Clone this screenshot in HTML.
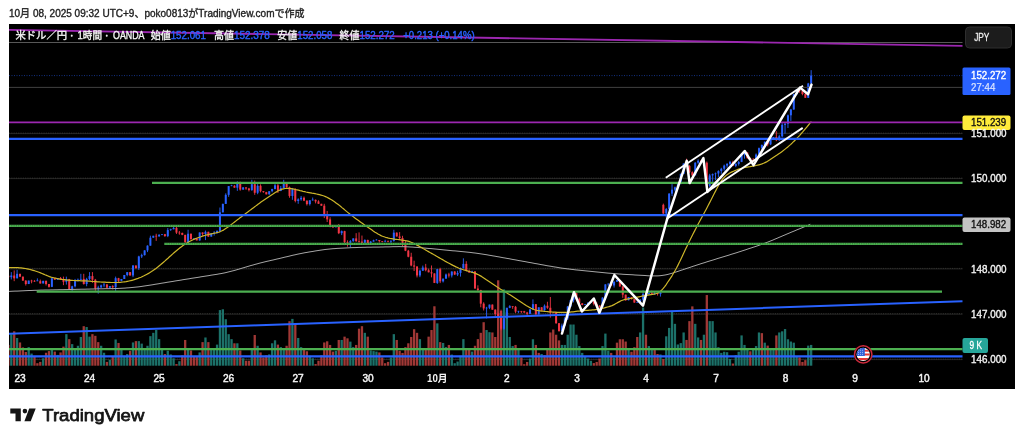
<!DOCTYPE html><html lang="ja"><head><meta charset="utf-8"><title>USDJPY chart</title><style>html,body{margin:0;padding:0;background:#fff}body{width:1024px;height:441px;position:relative;overflow:hidden;font-family:"Liberation Sans","Noto Sans CJK JP",sans-serif}</style></head><body><svg width="1024" height="441" viewBox="0 0 1024 441" style="position:absolute;left:0;top:0;filter:blur(0.4px)">
<rect x="9" y="24" width="1006" height="365" fill="#000"/>
<defs><clipPath id="cp"><rect x="9" y="24" width="953.5" height="342"/></clipPath></defs>
<path d="M9 133.6H962.5" stroke="#242424" stroke-width="1"/>
<path d="M9 133.1H962.5" stroke="#3c3c38" stroke-width="0.8" stroke-dasharray="1.1 1.2"/>
<path d="M9 178.6H962.5" stroke="#242424" stroke-width="1"/>
<path d="M9 178.1H962.5" stroke="#3c3c38" stroke-width="0.8" stroke-dasharray="1.1 1.2"/>
<path d="M9 268.9H962.5" stroke="#242424" stroke-width="1"/>
<path d="M9 268.4H962.5" stroke="#3c3c38" stroke-width="0.8" stroke-dasharray="1.1 1.2"/>
<path d="M9 314.2H962.5" stroke="#242424" stroke-width="1"/>
<path d="M9 313.7H962.5" stroke="#3c3c38" stroke-width="0.8" stroke-dasharray="1.1 1.2"/>
<path d="M9 359.6H962.5" stroke="#242424" stroke-width="1"/>
<path d="M9 359.1H962.5" stroke="#3c3c38" stroke-width="0.8" stroke-dasharray="1.1 1.2"/>
<g clip-path="url(#cp)">
<g shape-rendering="auto"><rect x="7.25" y="344.95" width="2.3" height="20.75" fill="#a03836"/><rect x="10.15" y="334.16" width="2.3" height="31.54" fill="#1c7169"/><rect x="13.05" y="331.34" width="2.3" height="34.36" fill="#a03836"/><rect x="15.94" y="337.98" width="2.3" height="27.72" fill="#1c7169"/><rect x="18.84" y="342.46" width="2.3" height="23.24" fill="#a03836"/><rect x="21.74" y="347.44" width="2.3" height="18.26" fill="#a03836"/><rect x="24.64" y="351.92" width="2.3" height="13.78" fill="#a03836"/><rect x="27.54" y="347.11" width="2.3" height="18.59" fill="#1c7169"/><rect x="30.43" y="353.58" width="2.3" height="12.12" fill="#1c7169"/><rect x="33.33" y="356.57" width="2.3" height="9.13" fill="#a03836"/><rect x="36.23" y="363.21" width="2.3" height="2.49" fill="#a03836"/><rect x="39.13" y="361.88" width="2.3" height="3.82" fill="#a03836"/><rect x="42.03" y="358.23" width="2.3" height="7.47" fill="#1c7169"/><rect x="44.92" y="352.75" width="2.3" height="12.95" fill="#a03836"/><rect x="47.82" y="351.09" width="2.3" height="14.61" fill="#a03836"/><rect x="50.72" y="349.93" width="2.3" height="15.77" fill="#1c7169"/><rect x="53.62" y="351.59" width="2.3" height="14.11" fill="#a03836"/><rect x="56.52" y="354.91" width="2.3" height="10.79" fill="#1c7169"/><rect x="59.41" y="352.42" width="2.3" height="13.28" fill="#a03836"/><rect x="62.31" y="346.61" width="2.3" height="19.09" fill="#a03836"/><rect x="65.21" y="334.16" width="2.3" height="31.54" fill="#1c7169"/><rect x="68.11" y="339.14" width="2.3" height="26.56" fill="#a03836"/><rect x="71.01" y="344.12" width="2.3" height="21.58" fill="#1c7169"/><rect x="73.90" y="348.27" width="2.3" height="17.43" fill="#1c7169"/><rect x="76.80" y="345.78" width="2.3" height="19.92" fill="#1c7169"/><rect x="79.70" y="336.98" width="2.3" height="28.72" fill="#1c7169"/><rect x="82.60" y="326.19" width="2.3" height="39.51" fill="#a03836"/><rect x="85.50" y="327.02" width="2.3" height="38.68" fill="#1c7169"/><rect x="88.39" y="336.65" width="2.3" height="29.05" fill="#1c7169"/><rect x="91.29" y="334.16" width="2.3" height="31.54" fill="#a03836"/><rect x="94.19" y="335.82" width="2.3" height="29.88" fill="#a03836"/><rect x="97.09" y="342.13" width="2.3" height="23.57" fill="#a03836"/><rect x="99.99" y="345.78" width="2.3" height="19.92" fill="#1c7169"/><rect x="102.88" y="352.75" width="2.3" height="12.95" fill="#1c7169"/><rect x="105.78" y="361.88" width="2.3" height="3.82" fill="#a03836"/><rect x="108.68" y="359.89" width="2.3" height="5.81" fill="#1c7169"/><rect x="111.58" y="356.57" width="2.3" height="9.13" fill="#a03836"/><rect x="114.48" y="339.47" width="2.3" height="26.23" fill="#1c7169"/><rect x="117.37" y="342.96" width="2.3" height="22.74" fill="#a03836"/><rect x="120.27" y="349.93" width="2.3" height="15.77" fill="#1c7169"/><rect x="123.17" y="355.74" width="2.3" height="9.96" fill="#1c7169"/><rect x="126.07" y="354.08" width="2.3" height="11.62" fill="#1c7169"/><rect x="128.97" y="350.76" width="2.3" height="14.94" fill="#a03836"/><rect x="131.86" y="342.46" width="2.3" height="23.24" fill="#1c7169"/><rect x="134.76" y="341.13" width="2.3" height="24.57" fill="#a03836"/><rect x="137.66" y="341.13" width="2.3" height="24.57" fill="#1c7169"/><rect x="140.56" y="343.62" width="2.3" height="22.08" fill="#1c7169"/><rect x="143.46" y="348.27" width="2.3" height="17.43" fill="#1c7169"/><rect x="146.35" y="345.78" width="2.3" height="19.92" fill="#1c7169"/><rect x="149.25" y="336.15" width="2.3" height="29.55" fill="#1c7169"/><rect x="152.15" y="332.83" width="2.3" height="32.87" fill="#1c7169"/><rect x="155.05" y="330.01" width="2.3" height="35.69" fill="#1c7169"/><rect x="157.95" y="339.14" width="2.3" height="26.56" fill="#1c7169"/><rect x="160.84" y="349.10" width="2.3" height="16.60" fill="#1c7169"/><rect x="163.74" y="354.08" width="2.3" height="11.62" fill="#a03836"/><rect x="166.64" y="350.76" width="2.3" height="14.94" fill="#1c7169"/><rect x="169.54" y="354.41" width="2.3" height="11.29" fill="#1c7169"/><rect x="172.44" y="358.23" width="2.3" height="7.47" fill="#1c7169"/><rect x="175.33" y="364.04" width="2.3" height="1.66" fill="#a03836"/><rect x="178.23" y="361.22" width="2.3" height="4.48" fill="#1c7169"/><rect x="181.13" y="355.41" width="2.3" height="10.29" fill="#a03836"/><rect x="184.03" y="339.97" width="2.3" height="25.73" fill="#a03836"/><rect x="186.93" y="348.27" width="2.3" height="17.43" fill="#1c7169"/><rect x="189.82" y="350.43" width="2.3" height="15.27" fill="#a03836"/><rect x="192.72" y="357.07" width="2.3" height="8.63" fill="#a03836"/><rect x="195.62" y="357.07" width="2.3" height="8.63" fill="#a03836"/><rect x="198.52" y="352.42" width="2.3" height="13.28" fill="#1c7169"/><rect x="201.42" y="342.13" width="2.3" height="23.57" fill="#a03836"/><rect x="204.31" y="337.48" width="2.3" height="28.22" fill="#1c7169"/><rect x="207.21" y="342.13" width="2.3" height="23.57" fill="#a03836"/><rect x="210.11" y="349.10" width="2.3" height="16.60" fill="#1c7169"/><rect x="213.01" y="349.10" width="2.3" height="16.60" fill="#1c7169"/><rect x="215.91" y="344.62" width="2.3" height="21.08" fill="#1c7169"/><rect x="218.80" y="310.09" width="2.3" height="55.61" fill="#1c7169"/><rect x="221.70" y="309.26" width="2.3" height="56.44" fill="#1c7169"/><rect x="224.60" y="319.22" width="2.3" height="46.48" fill="#1c7169"/><rect x="227.50" y="334.16" width="2.3" height="31.54" fill="#1c7169"/><rect x="230.40" y="339.14" width="2.3" height="26.56" fill="#1c7169"/><rect x="233.29" y="343.29" width="2.3" height="22.41" fill="#a03836"/><rect x="236.19" y="343.29" width="2.3" height="22.41" fill="#1c7169"/><rect x="239.09" y="350.43" width="2.3" height="15.27" fill="#a03836"/><rect x="241.99" y="358.23" width="2.3" height="7.47" fill="#1c7169"/><rect x="244.89" y="360.72" width="2.3" height="4.98" fill="#a03836"/><rect x="247.78" y="360.72" width="2.3" height="4.98" fill="#a03836"/><rect x="250.68" y="348.27" width="2.3" height="17.43" fill="#1c7169"/><rect x="253.58" y="334.99" width="2.3" height="30.71" fill="#a03836"/><rect x="256.48" y="345.78" width="2.3" height="19.92" fill="#1c7169"/><rect x="259.38" y="352.42" width="2.3" height="13.28" fill="#a03836"/><rect x="262.27" y="357.40" width="2.3" height="8.30" fill="#a03836"/><rect x="265.17" y="355.41" width="2.3" height="10.29" fill="#a03836"/><rect x="268.07" y="354.41" width="2.3" height="11.29" fill="#1c7169"/><rect x="270.97" y="343.29" width="2.3" height="22.41" fill="#1c7169"/><rect x="273.87" y="340.30" width="2.3" height="25.40" fill="#1c7169"/><rect x="276.76" y="344.62" width="2.3" height="21.08" fill="#a03836"/><rect x="279.66" y="347.11" width="2.3" height="18.59" fill="#1c7169"/><rect x="282.56" y="348.27" width="2.3" height="17.43" fill="#1c7169"/><rect x="285.46" y="345.78" width="2.3" height="19.92" fill="#a03836"/><rect x="288.36" y="321.21" width="2.3" height="44.49" fill="#a03836"/><rect x="291.25" y="318.89" width="2.3" height="46.81" fill="#1c7169"/><rect x="294.15" y="323.37" width="2.3" height="42.33" fill="#a03836"/><rect x="297.05" y="337.98" width="2.3" height="27.72" fill="#1c7169"/><rect x="299.95" y="347.11" width="2.3" height="18.59" fill="#1c7169"/><rect x="302.85" y="349.93" width="2.3" height="15.77" fill="#a03836"/><rect x="305.74" y="351.26" width="2.3" height="14.44" fill="#a03836"/><rect x="308.64" y="355.74" width="2.3" height="9.96" fill="#1c7169"/><rect x="311.54" y="358.23" width="2.3" height="7.47" fill="#1c7169"/><rect x="314.44" y="364.04" width="2.3" height="1.66" fill="#a03836"/><rect x="317.34" y="360.72" width="2.3" height="4.98" fill="#a03836"/><rect x="320.23" y="355.41" width="2.3" height="10.29" fill="#a03836"/><rect x="323.13" y="342.46" width="2.3" height="23.24" fill="#a03836"/><rect x="326.03" y="341.30" width="2.3" height="24.40" fill="#a03836"/><rect x="328.93" y="344.95" width="2.3" height="20.75" fill="#a03836"/><rect x="331.83" y="351.59" width="2.3" height="14.11" fill="#a03836"/><rect x="334.72" y="350.76" width="2.3" height="14.94" fill="#1c7169"/><rect x="337.62" y="339.97" width="2.3" height="25.73" fill="#a03836"/><rect x="340.52" y="339.97" width="2.3" height="25.73" fill="#1c7169"/><rect x="343.42" y="336.65" width="2.3" height="29.05" fill="#a03836"/><rect x="346.32" y="338.31" width="2.3" height="27.39" fill="#a03836"/><rect x="349.21" y="341.63" width="2.3" height="24.07" fill="#1c7169"/><rect x="352.11" y="347.11" width="2.3" height="18.59" fill="#1c7169"/><rect x="355.01" y="344.95" width="2.3" height="20.75" fill="#a03836"/><rect x="357.91" y="328.68" width="2.3" height="37.02" fill="#a03836"/><rect x="360.81" y="326.19" width="2.3" height="39.51" fill="#a03836"/><rect x="363.70" y="332.83" width="2.3" height="32.87" fill="#1c7169"/><rect x="366.60" y="336.65" width="2.3" height="29.05" fill="#a03836"/><rect x="369.50" y="350.43" width="2.3" height="15.27" fill="#1c7169"/><rect x="372.40" y="351.09" width="2.3" height="14.61" fill="#1c7169"/><rect x="375.30" y="351.59" width="2.3" height="14.11" fill="#1c7169"/><rect x="378.19" y="352.42" width="2.3" height="13.28" fill="#a03836"/><rect x="381.09" y="357.40" width="2.3" height="8.30" fill="#a03836"/><rect x="383.99" y="363.21" width="2.3" height="2.49" fill="#a03836"/><rect x="386.89" y="361.88" width="2.3" height="3.82" fill="#a03836"/><rect x="389.79" y="357.40" width="2.3" height="8.30" fill="#1c7169"/><rect x="392.68" y="334.16" width="2.3" height="31.54" fill="#1c7169"/><rect x="395.58" y="339.97" width="2.3" height="25.73" fill="#a03836"/><rect x="398.48" y="350.76" width="2.3" height="14.94" fill="#a03836"/><rect x="401.38" y="352.92" width="2.3" height="12.78" fill="#a03836"/><rect x="404.28" y="347.11" width="2.3" height="18.59" fill="#a03836"/><rect x="407.17" y="343.29" width="2.3" height="22.41" fill="#a03836"/><rect x="410.07" y="336.98" width="2.3" height="28.72" fill="#a03836"/><rect x="412.97" y="329.18" width="2.3" height="36.52" fill="#a03836"/><rect x="415.87" y="332.83" width="2.3" height="32.87" fill="#a03836"/><rect x="418.77" y="339.14" width="2.3" height="26.56" fill="#1c7169"/><rect x="421.66" y="348.27" width="2.3" height="17.43" fill="#1c7169"/><rect x="424.56" y="349.10" width="2.3" height="16.60" fill="#a03836"/><rect x="427.46" y="336.65" width="2.3" height="29.05" fill="#a03836"/><rect x="430.36" y="330.01" width="2.3" height="35.69" fill="#a03836"/><rect x="433.26" y="306.27" width="2.3" height="59.43" fill="#a03836"/><rect x="436.15" y="323.37" width="2.3" height="42.33" fill="#1c7169"/><rect x="439.05" y="342.13" width="2.3" height="23.57" fill="#a03836"/><rect x="441.95" y="342.96" width="2.3" height="22.74" fill="#1c7169"/><rect x="444.85" y="347.11" width="2.3" height="18.59" fill="#1c7169"/><rect x="447.75" y="344.95" width="2.3" height="20.75" fill="#a03836"/><rect x="450.64" y="354.58" width="2.3" height="11.12" fill="#1c7169"/><rect x="453.54" y="363.21" width="2.3" height="2.49" fill="#1c7169"/><rect x="456.44" y="361.55" width="2.3" height="4.15" fill="#1c7169"/><rect x="459.34" y="355.74" width="2.3" height="9.96" fill="#1c7169"/><rect x="462.24" y="339.14" width="2.3" height="26.56" fill="#1c7169"/><rect x="465.13" y="348.27" width="2.3" height="17.43" fill="#a03836"/><rect x="468.03" y="349.93" width="2.3" height="15.77" fill="#a03836"/><rect x="470.93" y="351.59" width="2.3" height="14.11" fill="#1c7169"/><rect x="473.83" y="345.78" width="2.3" height="19.92" fill="#a03836"/><rect x="476.73" y="339.14" width="2.3" height="26.56" fill="#a03836"/><rect x="479.62" y="332.83" width="2.3" height="32.87" fill="#a03836"/><rect x="482.52" y="322.21" width="2.3" height="43.49" fill="#a03836"/><rect x="485.42" y="330.01" width="2.3" height="35.69" fill="#1c7169"/><rect x="488.32" y="332.17" width="2.3" height="33.53" fill="#1c7169"/><rect x="491.22" y="332.46" width="2.3" height="33.24" fill="#a03836"/><rect x="494.11" y="336.99" width="2.3" height="28.71" fill="#a03836"/><rect x="497.01" y="280.30" width="2.3" height="85.40" fill="#a03836"/><rect x="499.91" y="310.92" width="2.3" height="54.78" fill="#a03836"/><rect x="502.81" y="289.37" width="2.3" height="76.33" fill="#1c7169"/><rect x="505.71" y="312.05" width="2.3" height="53.65" fill="#1c7169"/><rect x="508.60" y="336.99" width="2.3" height="28.71" fill="#1c7169"/><rect x="511.50" y="346.06" width="2.3" height="19.64" fill="#1c7169"/><rect x="514.40" y="344.93" width="2.3" height="20.77" fill="#a03836"/><rect x="517.30" y="349.46" width="2.3" height="16.24" fill="#1c7169"/><rect x="520.20" y="357.40" width="2.3" height="8.30" fill="#a03836"/><rect x="523.09" y="364.20" width="2.3" height="1.50" fill="#a03836"/><rect x="525.99" y="361.94" width="2.3" height="3.76" fill="#a03836"/><rect x="528.89" y="358.53" width="2.3" height="7.17" fill="#1c7169"/><rect x="531.79" y="339.26" width="2.3" height="26.44" fill="#1c7169"/><rect x="534.69" y="344.93" width="2.3" height="20.77" fill="#a03836"/><rect x="537.58" y="352.87" width="2.3" height="12.83" fill="#a03836"/><rect x="540.48" y="354.00" width="2.3" height="11.70" fill="#1c7169"/><rect x="543.38" y="355.13" width="2.3" height="10.57" fill="#a03836"/><rect x="546.28" y="348.33" width="2.3" height="17.37" fill="#a03836"/><rect x="549.18" y="332.46" width="2.3" height="33.24" fill="#a03836"/><rect x="552.07" y="329.51" width="2.3" height="36.19" fill="#a03836"/><rect x="554.97" y="334.72" width="2.3" height="30.98" fill="#a03836"/><rect x="557.87" y="340.39" width="2.3" height="25.31" fill="#a03836"/><rect x="560.77" y="344.93" width="2.3" height="20.77" fill="#1c7169"/><rect x="563.67" y="344.93" width="2.3" height="20.77" fill="#1c7169"/><rect x="566.56" y="334.72" width="2.3" height="30.98" fill="#1c7169"/><rect x="569.46" y="324.52" width="2.3" height="41.18" fill="#1c7169"/><rect x="572.36" y="324.52" width="2.3" height="41.18" fill="#1c7169"/><rect x="575.26" y="334.72" width="2.3" height="30.98" fill="#1c7169"/><rect x="578.16" y="346.06" width="2.3" height="19.64" fill="#1c7169"/><rect x="581.05" y="352.87" width="2.3" height="12.83" fill="#1c7169"/><rect x="583.95" y="356.27" width="2.3" height="9.43" fill="#1c7169"/><rect x="586.85" y="358.53" width="2.3" height="7.17" fill="#1c7169"/><rect x="589.75" y="360.80" width="2.3" height="4.90" fill="#1c7169"/><rect x="592.65" y="363.07" width="2.3" height="2.63" fill="#a03836"/><rect x="595.54" y="361.94" width="2.3" height="3.76" fill="#a03836"/><rect x="598.44" y="358.53" width="2.3" height="7.17" fill="#a03836"/><rect x="601.34" y="346.06" width="2.3" height="19.64" fill="#1c7169"/><rect x="604.24" y="333.59" width="2.3" height="32.11" fill="#1c7169"/><rect x="607.14" y="350.60" width="2.3" height="15.10" fill="#1c7169"/><rect x="610.03" y="352.87" width="2.3" height="12.83" fill="#a03836"/><rect x="612.93" y="357.40" width="2.3" height="8.30" fill="#1c7169"/><rect x="615.83" y="342.66" width="2.3" height="23.04" fill="#a03836"/><rect x="618.73" y="339.26" width="2.3" height="26.44" fill="#a03836"/><rect x="621.63" y="339.26" width="2.3" height="26.44" fill="#a03836"/><rect x="624.52" y="341.53" width="2.3" height="24.17" fill="#a03836"/><rect x="627.42" y="348.33" width="2.3" height="17.37" fill="#1c7169"/><rect x="630.32" y="351.73" width="2.3" height="13.97" fill="#a03836"/><rect x="633.22" y="347.20" width="2.3" height="18.50" fill="#a03836"/><rect x="636.12" y="336.99" width="2.3" height="28.71" fill="#a03836"/><rect x="639.01" y="332.46" width="2.3" height="33.24" fill="#1c7169"/><rect x="641.91" y="307.51" width="2.3" height="58.19" fill="#1c7169"/><rect x="644.81" y="334.72" width="2.3" height="30.98" fill="#a03836"/><rect x="647.71" y="346.06" width="2.3" height="19.64" fill="#1c7169"/><rect x="650.61" y="348.33" width="2.3" height="17.37" fill="#1c7169"/><rect x="653.50" y="348.33" width="2.3" height="17.37" fill="#a03836"/><rect x="656.40" y="354.00" width="2.3" height="11.70" fill="#a03836"/><rect x="659.30" y="354.45" width="2.3" height="11.25" fill="#1c7169"/><rect x="662.20" y="358.99" width="2.3" height="6.71" fill="#a03836"/><rect x="665.10" y="336.31" width="2.3" height="29.39" fill="#1c7169"/><rect x="667.99" y="327.92" width="2.3" height="37.78" fill="#1c7169"/><rect x="670.89" y="310.92" width="2.3" height="54.78" fill="#1c7169"/><rect x="673.79" y="323.84" width="2.3" height="41.86" fill="#1c7169"/><rect x="676.69" y="344.48" width="2.3" height="21.22" fill="#1c7169"/><rect x="679.59" y="343.11" width="2.3" height="22.59" fill="#1c7169"/><rect x="682.48" y="332.46" width="2.3" height="33.24" fill="#1c7169"/><rect x="685.38" y="339.94" width="2.3" height="25.76" fill="#a03836"/><rect x="688.28" y="321.12" width="2.3" height="44.58" fill="#a03836"/><rect x="691.18" y="306.38" width="2.3" height="59.32" fill="#a03836"/><rect x="694.08" y="323.84" width="2.3" height="41.86" fill="#1c7169"/><rect x="696.97" y="337.45" width="2.3" height="28.25" fill="#1c7169"/><rect x="699.87" y="339.94" width="2.3" height="25.76" fill="#a03836"/><rect x="702.77" y="334.72" width="2.3" height="30.98" fill="#1c7169"/><rect x="705.67" y="295.04" width="2.3" height="70.66" fill="#a03836"/><rect x="708.57" y="321.12" width="2.3" height="44.58" fill="#1c7169"/><rect x="711.46" y="321.12" width="2.3" height="44.58" fill="#1c7169"/><rect x="714.36" y="332.46" width="2.3" height="33.24" fill="#1c7169"/><rect x="717.26" y="347.20" width="2.3" height="18.50" fill="#1c7169"/><rect x="720.16" y="352.87" width="2.3" height="12.83" fill="#1c7169"/><rect x="723.06" y="351.73" width="2.3" height="13.97" fill="#1c7169"/><rect x="725.95" y="352.19" width="2.3" height="13.51" fill="#1c7169"/><rect x="728.85" y="358.99" width="2.3" height="6.71" fill="#1c7169"/><rect x="731.75" y="363.52" width="2.3" height="2.18" fill="#a03836"/><rect x="734.65" y="355.13" width="2.3" height="10.57" fill="#1c7169"/><rect x="737.55" y="351.73" width="2.3" height="13.97" fill="#1c7169"/><rect x="740.44" y="335.41" width="2.3" height="30.29" fill="#1c7169"/><rect x="743.34" y="344.93" width="2.3" height="20.77" fill="#1c7169"/><rect x="746.24" y="349.46" width="2.3" height="16.24" fill="#1c7169"/><rect x="749.14" y="351.28" width="2.3" height="14.42" fill="#a03836"/><rect x="752.04" y="349.46" width="2.3" height="16.24" fill="#1c7169"/><rect x="754.93" y="346.06" width="2.3" height="19.64" fill="#1c7169"/><rect x="757.83" y="332.46" width="2.3" height="33.24" fill="#1c7169"/><rect x="760.73" y="333.14" width="2.3" height="32.56" fill="#a03836"/><rect x="763.63" y="342.66" width="2.3" height="23.04" fill="#1c7169"/><rect x="766.53" y="345.61" width="2.3" height="20.09" fill="#a03836"/><rect x="769.42" y="348.33" width="2.3" height="17.37" fill="#1c7169"/><rect x="772.32" y="349.46" width="2.3" height="16.24" fill="#1c7169"/><rect x="775.22" y="335.41" width="2.3" height="30.29" fill="#a03836"/><rect x="778.12" y="332.46" width="2.3" height="33.24" fill="#1c7169"/><rect x="781.02" y="331.32" width="2.3" height="34.38" fill="#1c7169"/><rect x="783.91" y="329.06" width="2.3" height="36.64" fill="#1c7169"/><rect x="786.81" y="339.26" width="2.3" height="26.44" fill="#1c7169"/><rect x="789.71" y="341.53" width="2.3" height="24.17" fill="#1c7169"/><rect x="792.61" y="342.66" width="2.3" height="23.04" fill="#1c7169"/><rect x="795.51" y="356.27" width="2.3" height="9.43" fill="#1c7169"/><rect x="798.40" y="357.40" width="2.3" height="8.30" fill="#a03836"/><rect x="801.30" y="361.94" width="2.3" height="3.76" fill="#a03836"/><rect x="804.20" y="360.12" width="2.3" height="5.58" fill="#a03836"/><rect x="807.10" y="345.61" width="2.3" height="20.09" fill="#1c7169"/><rect x="810.00" y="344.93" width="2.3" height="20.77" fill="#1c7169"/></g>
<g><path d="M8.40 274.38V280.61" stroke="#f23645" stroke-width="0.9"/><rect x="7.40" y="275.71" width="2" height="1.50" fill="#f23645"/><path d="M11.30 272.11V279.48" stroke="#2962ff" stroke-width="0.9"/><rect x="10.30" y="275.51" width="2" height="1.70" fill="#2962ff"/><path d="M14.20 270.41V281.18" stroke="#f23645" stroke-width="0.9"/><rect x="13.20" y="275.51" width="2" height="2.83" fill="#f23645"/><path d="M17.09 269.84V278.34" stroke="#2962ff" stroke-width="0.9"/><rect x="16.09" y="273.81" width="2" height="4.54" fill="#2962ff"/><path d="M19.99 273.81V277.06" stroke="#f23645" stroke-width="0.9"/><rect x="18.99" y="273.81" width="2" height="2.83" fill="#f23645"/><path d="M22.89 276.63V280.63" stroke="#f23645" stroke-width="0.9"/><rect x="21.89" y="276.64" width="2" height="3.97" fill="#f23645"/><path d="M25.79 280.22V285.52" stroke="#f23645" stroke-width="0.9"/><rect x="24.79" y="280.61" width="2" height="3.40" fill="#f23645"/><path d="M28.69 280.58V284.12" stroke="#2962ff" stroke-width="0.9"/><rect x="27.69" y="280.61" width="2" height="3.40" fill="#2962ff"/><path d="M31.58 279.75V283.29" stroke="#f23645" stroke-width="0.9"/><rect x="30.58" y="280.61" width="2" height="0.70" fill="#f23645"/><path d="M34.48 280.11V281.89" stroke="#f23645" stroke-width="0.9"/><rect x="33.48" y="280.84" width="2" height="0.70" fill="#f23645"/><path d="M37.38 278.38V281.18" stroke="#2962ff" stroke-width="0.9"/><rect x="36.38" y="280.48" width="2" height="0.70" fill="#2962ff"/><path d="M40.28 279.56V283.63" stroke="#f23645" stroke-width="0.9"/><rect x="39.28" y="281.18" width="2" height="2.27" fill="#f23645"/><path d="M43.18 280.79V283.48" stroke="#2962ff" stroke-width="0.9"/><rect x="42.18" y="280.84" width="2" height="2.61" fill="#2962ff"/><path d="M46.07 280.63V285.48" stroke="#f23645" stroke-width="0.9"/><rect x="45.07" y="280.84" width="2" height="3.17" fill="#f23645"/><path d="M48.97 283.94V287.59" stroke="#f23645" stroke-width="0.9"/><rect x="47.97" y="284.01" width="2" height="2.83" fill="#f23645"/><path d="M51.87 277.45V287.15" stroke="#2962ff" stroke-width="0.9"/><rect x="50.87" y="278.34" width="2" height="8.50" fill="#2962ff"/><path d="M54.77 277.68V279.71" stroke="#f23645" stroke-width="0.9"/><rect x="53.77" y="278.34" width="2" height="1.36" fill="#f23645"/><path d="M57.67 278.00V279.80" stroke="#2962ff" stroke-width="0.9"/><rect x="56.67" y="278.00" width="2" height="1.70" fill="#2962ff"/><path d="M60.56 276.99V279.88" stroke="#f23645" stroke-width="0.9"/><rect x="59.56" y="278.00" width="2" height="1.47" fill="#f23645"/><path d="M63.46 276.64V285.15" stroke="#f23645" stroke-width="0.9"/><rect x="62.46" y="279.48" width="2" height="2.27" fill="#f23645"/><path d="M66.36 276.64V284.58" stroke="#2962ff" stroke-width="0.9"/><rect x="65.36" y="279.14" width="2" height="2.61" fill="#2962ff"/><path d="M69.26 278.91V289.68" stroke="#f23645" stroke-width="0.9"/><rect x="68.26" y="279.14" width="2" height="9.98" fill="#f23645"/><path d="M72.16 285.71V290.82" stroke="#2962ff" stroke-width="0.9"/><rect x="71.16" y="286.28" width="2" height="2.83" fill="#2962ff"/><path d="M75.05 278.91V287.41" stroke="#2962ff" stroke-width="0.9"/><rect x="74.05" y="281.18" width="2" height="5.10" fill="#2962ff"/><path d="M77.95 278.53V281.36" stroke="#2962ff" stroke-width="0.9"/><rect x="76.95" y="279.71" width="2" height="1.47" fill="#2962ff"/><path d="M80.85 273.81V280.05" stroke="#2962ff" stroke-width="0.9"/><rect x="79.85" y="278.91" width="2" height="0.79" fill="#2962ff"/><path d="M83.75 273.81V284.58" stroke="#f23645" stroke-width="0.9"/><rect x="82.75" y="278.91" width="2" height="5.10" fill="#f23645"/><path d="M86.65 277.78V286.28" stroke="#2962ff" stroke-width="0.9"/><rect x="85.65" y="278.91" width="2" height="5.10" fill="#2962ff"/><path d="M89.54 272.11V280.05" stroke="#2962ff" stroke-width="0.9"/><rect x="88.54" y="276.08" width="2" height="2.83" fill="#2962ff"/><path d="M92.44 272.11V282.88" stroke="#f23645" stroke-width="0.9"/><rect x="91.44" y="276.08" width="2" height="3.63" fill="#f23645"/><path d="M95.34 278.91V290.82" stroke="#f23645" stroke-width="0.9"/><rect x="94.34" y="279.71" width="2" height="8.84" fill="#f23645"/><path d="M98.24 285.71V293.65" stroke="#2962ff" stroke-width="0.9"/><rect x="97.24" y="287.41" width="2" height="1.13" fill="#2962ff"/><path d="M101.14 284.58V287.87" stroke="#2962ff" stroke-width="0.9"/><rect x="100.14" y="285.32" width="2" height="2.10" fill="#2962ff"/><path d="M104.03 282.97V287.28" stroke="#2962ff" stroke-width="0.9"/><rect x="103.03" y="284.52" width="2" height="0.79" fill="#2962ff"/><path d="M106.93 284.03V288.67" stroke="#f23645" stroke-width="0.9"/><rect x="105.93" y="284.52" width="2" height="3.17" fill="#f23645"/><path d="M109.83 286.10V288.78" stroke="#2962ff" stroke-width="0.9"/><rect x="108.83" y="286.11" width="2" height="1.59" fill="#2962ff"/><path d="M112.73 285.19V289.39" stroke="#f23645" stroke-width="0.9"/><rect x="111.73" y="286.11" width="2" height="1.11" fill="#f23645"/><path d="M115.63 276.59V290.87" stroke="#2962ff" stroke-width="0.9"/><rect x="114.63" y="278.17" width="2" height="9.05" fill="#2962ff"/><path d="M118.52 277.85V281.86" stroke="#f23645" stroke-width="0.9"/><rect x="117.52" y="278.17" width="2" height="2.70" fill="#f23645"/><path d="M121.42 278.97V281.34" stroke="#2962ff" stroke-width="0.9"/><rect x="120.42" y="278.97" width="2" height="1.90" fill="#2962ff"/><path d="M124.32 274.94V279.00" stroke="#2962ff" stroke-width="0.9"/><rect x="123.32" y="275.00" width="2" height="3.97" fill="#2962ff"/><path d="M127.22 272.14V276.30" stroke="#2962ff" stroke-width="0.9"/><rect x="126.22" y="272.14" width="2" height="2.86" fill="#2962ff"/><path d="M130.12 272.11V275.61" stroke="#f23645" stroke-width="0.9"/><rect x="129.12" y="272.14" width="2" height="3.33" fill="#f23645"/><path d="M133.01 265.14V277.15" stroke="#2962ff" stroke-width="0.9"/><rect x="132.01" y="265.48" width="2" height="10.00" fill="#2962ff"/><path d="M135.91 265.46V268.62" stroke="#f23645" stroke-width="0.9"/><rect x="134.91" y="265.48" width="2" height="2.70" fill="#f23645"/><path d="M138.81 255.76V269.89" stroke="#2962ff" stroke-width="0.9"/><rect x="137.81" y="256.43" width="2" height="11.75" fill="#2962ff"/><path d="M141.71 253.68V258.07" stroke="#2962ff" stroke-width="0.9"/><rect x="140.71" y="255.16" width="2" height="1.27" fill="#2962ff"/><path d="M144.61 250.23V255.54" stroke="#2962ff" stroke-width="0.9"/><rect x="143.61" y="250.40" width="2" height="4.76" fill="#2962ff"/><path d="M147.50 245.35V252.12" stroke="#2962ff" stroke-width="0.9"/><rect x="146.50" y="245.63" width="2" height="4.76" fill="#2962ff"/><path d="M150.40 235.68V245.69" stroke="#2962ff" stroke-width="0.9"/><rect x="149.40" y="237.70" width="2" height="7.94" fill="#2962ff"/><path d="M153.30 235.73V237.82" stroke="#2962ff" stroke-width="0.9"/><rect x="152.30" y="235.79" width="2" height="1.90" fill="#2962ff"/><path d="M156.20 233.73V240.87" stroke="#f23645" stroke-width="0.9"/><rect x="155.20" y="235.79" width="2" height="0.70" fill="#f23645"/><path d="M159.10 234.08V236.58" stroke="#2962ff" stroke-width="0.9"/><rect x="158.10" y="234.84" width="2" height="1.59" fill="#2962ff"/><path d="M161.99 234.14V235.23" stroke="#2962ff" stroke-width="0.9"/><rect x="160.99" y="234.14" width="2" height="0.70" fill="#2962ff"/><path d="M164.89 233.91V236.82" stroke="#f23645" stroke-width="0.9"/><rect x="163.89" y="234.21" width="2" height="1.90" fill="#f23645"/><path d="M167.79 228.08V237.16" stroke="#2962ff" stroke-width="0.9"/><rect x="166.79" y="230.08" width="2" height="6.03" fill="#2962ff"/><path d="M170.69 228.70V230.92" stroke="#2962ff" stroke-width="0.9"/><rect x="169.69" y="229.29" width="2" height="0.79" fill="#2962ff"/><path d="M173.59 226.85V229.29" stroke="#2962ff" stroke-width="0.9"/><rect x="172.59" y="227.86" width="2" height="1.43" fill="#2962ff"/><path d="M176.48 226.08V233.96" stroke="#f23645" stroke-width="0.9"/><rect x="175.48" y="227.86" width="2" height="4.76" fill="#f23645"/><path d="M179.38 230.94V234.72" stroke="#f23645" stroke-width="0.9"/><rect x="178.38" y="232.62" width="2" height="0.70" fill="#f23645"/><path d="M182.28 232.60V235.19" stroke="#f23645" stroke-width="0.9"/><rect x="181.28" y="232.94" width="2" height="1.90" fill="#f23645"/><path d="M185.18 234.82V243.03" stroke="#f23645" stroke-width="0.9"/><rect x="184.18" y="234.84" width="2" height="7.30" fill="#f23645"/><path d="M188.08 229.76V243.25" stroke="#2962ff" stroke-width="0.9"/><rect x="187.08" y="233.73" width="2" height="8.41" fill="#2962ff"/><path d="M190.97 233.63V239.34" stroke="#f23645" stroke-width="0.9"/><rect x="189.97" y="233.73" width="2" height="5.56" fill="#f23645"/><path d="M193.87 238.24V239.29" stroke="#2962ff" stroke-width="0.9"/><rect x="192.87" y="238.49" width="2" height="0.79" fill="#2962ff"/><path d="M196.77 238.49V240.45" stroke="#f23645" stroke-width="0.9"/><rect x="195.77" y="238.49" width="2" height="1.90" fill="#f23645"/><path d="M199.67 232.44V240.69" stroke="#2962ff" stroke-width="0.9"/><rect x="198.67" y="232.46" width="2" height="7.94" fill="#2962ff"/><path d="M202.57 232.46V235.73" stroke="#f23645" stroke-width="0.9"/><rect x="201.57" y="232.46" width="2" height="1.59" fill="#f23645"/><path d="M205.46 230.56V240.08" stroke="#2962ff" stroke-width="0.9"/><rect x="204.46" y="231.83" width="2" height="2.22" fill="#2962ff"/><path d="M208.36 231.69V236.85" stroke="#f23645" stroke-width="0.9"/><rect x="207.36" y="231.83" width="2" height="4.76" fill="#f23645"/><path d="M211.26 233.12V236.62" stroke="#2962ff" stroke-width="0.9"/><rect x="210.26" y="233.41" width="2" height="3.17" fill="#2962ff"/><path d="M214.16 231.13V235.58" stroke="#2962ff" stroke-width="0.9"/><rect x="213.16" y="232.71" width="2" height="0.70" fill="#2962ff"/><path d="M217.06 230.40V233.61" stroke="#2962ff" stroke-width="0.9"/><rect x="216.06" y="230.87" width="2" height="2.22" fill="#2962ff"/><path d="M219.95 207.54V232.14" stroke="#2962ff" stroke-width="0.9"/><rect x="218.95" y="212.30" width="2" height="18.57" fill="#2962ff"/><path d="M222.85 203.63V212.46" stroke="#2962ff" stroke-width="0.9"/><rect x="221.85" y="203.89" width="2" height="8.41" fill="#2962ff"/><path d="M225.75 193.33V203.95" stroke="#2962ff" stroke-width="0.9"/><rect x="224.75" y="194.84" width="2" height="9.05" fill="#2962ff"/><path d="M228.65 186.11V196.83" stroke="#2962ff" stroke-width="0.9"/><rect x="227.65" y="186.11" width="2" height="8.73" fill="#2962ff"/><path d="M231.55 184.80V186.16" stroke="#2962ff" stroke-width="0.9"/><rect x="230.55" y="185.41" width="2" height="0.70" fill="#2962ff"/><path d="M234.44 185.14V187.70" stroke="#f23645" stroke-width="0.9"/><rect x="233.44" y="185.79" width="2" height="1.90" fill="#f23645"/><path d="M237.34 181.35V190.87" stroke="#2962ff" stroke-width="0.9"/><rect x="236.34" y="183.25" width="2" height="4.44" fill="#2962ff"/><path d="M240.24 181.61V190.67" stroke="#f23645" stroke-width="0.9"/><rect x="239.24" y="183.25" width="2" height="6.35" fill="#f23645"/><path d="M243.14 187.23V189.90" stroke="#2962ff" stroke-width="0.9"/><rect x="242.14" y="187.38" width="2" height="2.22" fill="#2962ff"/><path d="M246.04 187.32V189.80" stroke="#f23645" stroke-width="0.9"/><rect x="245.04" y="187.38" width="2" height="1.11" fill="#f23645"/><path d="M248.93 187.87V191.41" stroke="#f23645" stroke-width="0.9"/><rect x="247.93" y="188.49" width="2" height="1.59" fill="#f23645"/><path d="M251.83 179.76V190.87" stroke="#2962ff" stroke-width="0.9"/><rect x="250.83" y="184.21" width="2" height="5.87" fill="#2962ff"/><path d="M254.73 180.56V194.84" stroke="#f23645" stroke-width="0.9"/><rect x="253.73" y="184.21" width="2" height="8.57" fill="#f23645"/><path d="M257.63 184.19V194.21" stroke="#2962ff" stroke-width="0.9"/><rect x="256.63" y="185.79" width="2" height="6.98" fill="#2962ff"/><path d="M260.53 184.32V192.39" stroke="#f23645" stroke-width="0.9"/><rect x="259.53" y="185.79" width="2" height="5.40" fill="#f23645"/><path d="M263.42 191.08V192.73" stroke="#f23645" stroke-width="0.9"/><rect x="262.42" y="191.19" width="2" height="0.95" fill="#f23645"/><path d="M266.32 191.86V194.37" stroke="#f23645" stroke-width="0.9"/><rect x="265.32" y="192.14" width="2" height="2.22" fill="#f23645"/><path d="M269.22 191.19V194.54" stroke="#2962ff" stroke-width="0.9"/><rect x="268.22" y="191.19" width="2" height="3.17" fill="#2962ff"/><path d="M272.12 188.82V192.25" stroke="#2962ff" stroke-width="0.9"/><rect x="271.12" y="188.97" width="2" height="2.22" fill="#2962ff"/><path d="M275.02 183.30V189.41" stroke="#2962ff" stroke-width="0.9"/><rect x="274.02" y="185.32" width="2" height="3.65" fill="#2962ff"/><path d="M277.91 183.39V193.02" stroke="#f23645" stroke-width="0.9"/><rect x="276.91" y="185.32" width="2" height="5.56" fill="#f23645"/><path d="M280.81 186.01V191.17" stroke="#2962ff" stroke-width="0.9"/><rect x="279.81" y="188.02" width="2" height="2.86" fill="#2962ff"/><path d="M283.71 179.76V188.49" stroke="#2962ff" stroke-width="0.9"/><rect x="282.71" y="183.25" width="2" height="4.76" fill="#2962ff"/><path d="M286.61 183.17V187.47" stroke="#f23645" stroke-width="0.9"/><rect x="285.61" y="183.25" width="2" height="4.13" fill="#f23645"/><path d="M289.51 186.52V197.74" stroke="#f23645" stroke-width="0.9"/><rect x="288.51" y="187.38" width="2" height="8.57" fill="#f23645"/><path d="M292.40 187.94V199.84" stroke="#2962ff" stroke-width="0.9"/><rect x="291.40" y="189.21" width="2" height="6.75" fill="#2962ff"/><path d="M295.30 188.27V202.36" stroke="#f23645" stroke-width="0.9"/><rect x="294.30" y="189.21" width="2" height="11.75" fill="#f23645"/><path d="M298.20 198.25V203.81" stroke="#2962ff" stroke-width="0.9"/><rect x="297.20" y="199.37" width="2" height="1.59" fill="#2962ff"/><path d="M301.10 195.96V200.71" stroke="#2962ff" stroke-width="0.9"/><rect x="300.10" y="197.78" width="2" height="1.59" fill="#2962ff"/><path d="M304.00 196.54V201.14" stroke="#f23645" stroke-width="0.9"/><rect x="303.00" y="197.78" width="2" height="2.86" fill="#f23645"/><path d="M306.89 200.56V205.50" stroke="#f23645" stroke-width="0.9"/><rect x="305.89" y="200.63" width="2" height="3.49" fill="#f23645"/><path d="M309.79 200.07V205.54" stroke="#2962ff" stroke-width="0.9"/><rect x="308.79" y="200.32" width="2" height="3.81" fill="#2962ff"/><path d="M312.69 197.54V200.66" stroke="#2962ff" stroke-width="0.9"/><rect x="311.69" y="199.62" width="2" height="0.70" fill="#2962ff"/><path d="M315.59 199.49V203.40" stroke="#f23645" stroke-width="0.9"/><rect x="314.59" y="199.84" width="2" height="1.59" fill="#f23645"/><path d="M318.49 200.27V203.87" stroke="#f23645" stroke-width="0.9"/><rect x="317.49" y="201.43" width="2" height="2.38" fill="#f23645"/><path d="M321.38 203.77V205.76" stroke="#f23645" stroke-width="0.9"/><rect x="320.38" y="203.81" width="2" height="1.90" fill="#f23645"/><path d="M324.28 203.81V218.10" stroke="#f23645" stroke-width="0.9"/><rect x="323.28" y="205.71" width="2" height="8.41" fill="#f23645"/><path d="M327.18 210.95V222.06" stroke="#f23645" stroke-width="0.9"/><rect x="326.18" y="214.13" width="2" height="5.24" fill="#f23645"/><path d="M330.08 217.25V227.30" stroke="#f23645" stroke-width="0.9"/><rect x="329.08" y="219.37" width="2" height="6.98" fill="#f23645"/><path d="M332.98 226.08V227.96" stroke="#f23645" stroke-width="0.9"/><rect x="331.98" y="226.35" width="2" height="0.95" fill="#f23645"/><path d="M335.87 225.99V227.30" stroke="#2962ff" stroke-width="0.9"/><rect x="334.87" y="226.03" width="2" height="1.27" fill="#2962ff"/><path d="M338.77 223.96V234.10" stroke="#f23645" stroke-width="0.9"/><rect x="337.77" y="226.03" width="2" height="7.14" fill="#f23645"/><path d="M341.67 230.50V235.09" stroke="#2962ff" stroke-width="0.9"/><rect x="340.67" y="231.11" width="2" height="2.06" fill="#2962ff"/><path d="M344.57 230.79V245.08" stroke="#f23645" stroke-width="0.9"/><rect x="343.57" y="231.11" width="2" height="11.11" fill="#f23645"/><path d="M347.47 240.32V246.67" stroke="#f23645" stroke-width="0.9"/><rect x="346.47" y="242.22" width="2" height="0.70" fill="#f23645"/><path d="M350.36 240.00V247.46" stroke="#2962ff" stroke-width="0.9"/><rect x="349.36" y="241.11" width="2" height="1.59" fill="#2962ff"/><path d="M353.26 238.29V241.87" stroke="#2962ff" stroke-width="0.9"/><rect x="352.26" y="238.41" width="2" height="2.70" fill="#2962ff"/><path d="M356.16 233.17V241.90" stroke="#f23645" stroke-width="0.9"/><rect x="355.16" y="238.41" width="2" height="2.70" fill="#f23645"/><path d="M359.06 232.38V242.70" stroke="#f23645" stroke-width="0.9"/><rect x="358.06" y="241.11" width="2" height="0.70" fill="#f23645"/><path d="M361.96 235.56V244.29" stroke="#f23645" stroke-width="0.9"/><rect x="360.96" y="241.59" width="2" height="1.11" fill="#f23645"/><path d="M364.85 239.25V244.50" stroke="#2962ff" stroke-width="0.9"/><rect x="363.85" y="240.00" width="2" height="2.70" fill="#2962ff"/><path d="M367.75 239.61V245.03" stroke="#f23645" stroke-width="0.9"/><rect x="366.75" y="240.00" width="2" height="3.17" fill="#f23645"/><path d="M370.65 241.03V243.80" stroke="#2962ff" stroke-width="0.9"/><rect x="369.65" y="241.59" width="2" height="1.59" fill="#2962ff"/><path d="M373.55 239.71V241.59" stroke="#2962ff" stroke-width="0.9"/><rect x="372.55" y="240.32" width="2" height="1.27" fill="#2962ff"/><path d="M376.45 239.19V240.39" stroke="#2962ff" stroke-width="0.9"/><rect x="375.45" y="239.62" width="2" height="0.70" fill="#2962ff"/><path d="M379.34 240.00V242.52" stroke="#f23645" stroke-width="0.9"/><rect x="378.34" y="240.00" width="2" height="1.11" fill="#f23645"/><path d="M382.24 241.05V242.30" stroke="#f23645" stroke-width="0.9"/><rect x="381.24" y="241.11" width="2" height="0.70" fill="#f23645"/><path d="M385.14 239.72V242.27" stroke="#2962ff" stroke-width="0.9"/><rect x="384.14" y="240.87" width="2" height="0.71" fill="#2962ff"/><path d="M388.04 240.64V242.26" stroke="#f23645" stroke-width="0.9"/><rect x="387.04" y="240.87" width="2" height="0.79" fill="#f23645"/><path d="M390.94 240.19V243.02" stroke="#2962ff" stroke-width="0.9"/><rect x="389.94" y="240.87" width="2" height="0.79" fill="#2962ff"/><path d="M393.83 229.76V241.67" stroke="#2962ff" stroke-width="0.9"/><rect x="392.83" y="232.62" width="2" height="8.25" fill="#2962ff"/><path d="M396.73 232.48V236.60" stroke="#f23645" stroke-width="0.9"/><rect x="395.73" y="232.62" width="2" height="3.81" fill="#f23645"/><path d="M399.63 232.14V240.08" stroke="#f23645" stroke-width="0.9"/><rect x="398.63" y="236.43" width="2" height="1.59" fill="#f23645"/><path d="M402.53 235.79V246.43" stroke="#f23645" stroke-width="0.9"/><rect x="401.53" y="238.02" width="2" height="4.76" fill="#f23645"/><path d="M405.43 240.95V251.15" stroke="#f23645" stroke-width="0.9"/><rect x="404.43" y="242.78" width="2" height="7.94" fill="#f23645"/><path d="M408.32 249.89V257.31" stroke="#f23645" stroke-width="0.9"/><rect x="407.32" y="250.71" width="2" height="6.03" fill="#f23645"/><path d="M411.22 252.78V266.27" stroke="#f23645" stroke-width="0.9"/><rect x="410.22" y="256.75" width="2" height="8.73" fill="#f23645"/><path d="M414.12 260.71V271.03" stroke="#f23645" stroke-width="0.9"/><rect x="413.12" y="265.48" width="2" height="1.11" fill="#f23645"/><path d="M417.02 266.08V277.43" stroke="#f23645" stroke-width="0.9"/><rect x="416.02" y="266.59" width="2" height="8.89" fill="#f23645"/><path d="M419.92 269.64V277.17" stroke="#2962ff" stroke-width="0.9"/><rect x="418.92" y="270.71" width="2" height="4.76" fill="#2962ff"/><path d="M422.81 265.59V270.86" stroke="#2962ff" stroke-width="0.9"/><rect x="421.81" y="267.54" width="2" height="3.17" fill="#2962ff"/><path d="M425.71 263.89V271.35" stroke="#f23645" stroke-width="0.9"/><rect x="424.71" y="267.54" width="2" height="2.70" fill="#f23645"/><path d="M428.61 268.69V272.34" stroke="#f23645" stroke-width="0.9"/><rect x="427.61" y="270.24" width="2" height="2.06" fill="#f23645"/><path d="M431.51 265.48V277.38" stroke="#f23645" stroke-width="0.9"/><rect x="430.51" y="272.30" width="2" height="1.11" fill="#f23645"/><path d="M434.41 273.40V283.06" stroke="#f23645" stroke-width="0.9"/><rect x="433.41" y="273.41" width="2" height="9.52" fill="#f23645"/><path d="M437.30 269.12V283.92" stroke="#2962ff" stroke-width="0.9"/><rect x="436.30" y="269.13" width="2" height="13.81" fill="#2962ff"/><path d="M440.20 267.77V283.12" stroke="#f23645" stroke-width="0.9"/><rect x="439.20" y="269.13" width="2" height="12.22" fill="#f23645"/><path d="M443.10 278.60V282.48" stroke="#2962ff" stroke-width="0.9"/><rect x="442.10" y="278.65" width="2" height="2.70" fill="#2962ff"/><path d="M446.00 273.56V278.70" stroke="#2962ff" stroke-width="0.9"/><rect x="445.00" y="274.52" width="2" height="4.13" fill="#2962ff"/><path d="M448.90 272.81V277.54" stroke="#f23645" stroke-width="0.9"/><rect x="447.90" y="274.52" width="2" height="0.95" fill="#f23645"/><path d="M451.79 271.40V277.47" stroke="#2962ff" stroke-width="0.9"/><rect x="450.79" y="271.51" width="2" height="3.97" fill="#2962ff"/><path d="M454.69 271.16V275.05" stroke="#f23645" stroke-width="0.9"/><rect x="453.69" y="271.51" width="2" height="3.02" fill="#f23645"/><path d="M457.59 270.78V276.05" stroke="#2962ff" stroke-width="0.9"/><rect x="456.59" y="272.94" width="2" height="1.59" fill="#2962ff"/><path d="M460.49 267.54V276.59" stroke="#2962ff" stroke-width="0.9"/><rect x="459.49" y="268.17" width="2" height="4.76" fill="#2962ff"/><path d="M463.39 258.33V268.65" stroke="#2962ff" stroke-width="0.9"/><rect x="462.39" y="263.89" width="2" height="4.29" fill="#2962ff"/><path d="M466.28 261.19V271.35" stroke="#f23645" stroke-width="0.9"/><rect x="465.28" y="263.89" width="2" height="6.83" fill="#f23645"/><path d="M469.18 269.57V272.62" stroke="#f23645" stroke-width="0.9"/><rect x="468.18" y="270.71" width="2" height="1.90" fill="#f23645"/><path d="M472.08 270.67V273.05" stroke="#2962ff" stroke-width="0.9"/><rect x="471.08" y="271.35" width="2" height="1.27" fill="#2962ff"/><path d="M474.98 271.35V288.73" stroke="#f23645" stroke-width="0.9"/><rect x="473.98" y="271.35" width="2" height="17.14" fill="#f23645"/><path d="M477.88 285.32V291.35" stroke="#f23645" stroke-width="0.9"/><rect x="476.88" y="288.49" width="2" height="1.59" fill="#f23645"/><path d="M480.77 289.84V307.30" stroke="#f23645" stroke-width="0.9"/><rect x="479.77" y="290.08" width="2" height="13.57" fill="#f23645"/><path d="M483.67 302.28V310.49" stroke="#f23645" stroke-width="0.9"/><rect x="482.67" y="303.65" width="2" height="4.76" fill="#f23645"/><path d="M486.57 306.83V318.41" stroke="#2962ff" stroke-width="0.9"/><rect x="485.57" y="307.71" width="2" height="0.70" fill="#2962ff"/><path d="M489.47 304.60V309.11" stroke="#2962ff" stroke-width="0.9"/><rect x="488.47" y="304.60" width="2" height="3.17" fill="#2962ff"/><path d="M492.37 304.44V309.72" stroke="#f23645" stroke-width="0.9"/><rect x="491.37" y="304.60" width="2" height="5.08" fill="#f23645"/><path d="M495.26 309.29V315.95" stroke="#f23645" stroke-width="0.9"/><rect x="494.26" y="309.68" width="2" height="4.44" fill="#f23645"/><path d="M498.16 312.65V317.77" stroke="#f23645" stroke-width="0.9"/><rect x="497.16" y="314.13" width="2" height="3.49" fill="#f23645"/><path d="M501.06 309.68V330.32" stroke="#f23645" stroke-width="0.9"/><rect x="500.06" y="317.62" width="2" height="11.11" fill="#f23645"/><path d="M503.96 317.70V329.81" stroke="#2962ff" stroke-width="0.9"/><rect x="502.96" y="318.41" width="2" height="10.32" fill="#2962ff"/><path d="M506.86 307.76V318.42" stroke="#2962ff" stroke-width="0.9"/><rect x="505.86" y="307.78" width="2" height="10.63" fill="#2962ff"/><path d="M509.75 305.15V308.18" stroke="#2962ff" stroke-width="0.9"/><rect x="508.75" y="306.19" width="2" height="1.59" fill="#2962ff"/><path d="M512.65 306.18V308.83" stroke="#f23645" stroke-width="0.9"/><rect x="511.65" y="306.19" width="2" height="0.70" fill="#f23645"/><path d="M515.55 305.94V313.00" stroke="#f23645" stroke-width="0.9"/><rect x="514.55" y="306.83" width="2" height="4.76" fill="#f23645"/><path d="M518.45 310.87V313.20" stroke="#2962ff" stroke-width="0.9"/><rect x="517.45" y="310.89" width="2" height="0.70" fill="#2962ff"/><path d="M521.35 310.94V313.29" stroke="#f23645" stroke-width="0.9"/><rect x="520.35" y="310.95" width="2" height="0.70" fill="#f23645"/><path d="M524.24 310.82V312.79" stroke="#f23645" stroke-width="0.9"/><rect x="523.24" y="311.27" width="2" height="1.27" fill="#f23645"/><path d="M527.14 311.87V315.70" stroke="#f23645" stroke-width="0.9"/><rect x="526.14" y="312.54" width="2" height="1.27" fill="#f23645"/><path d="M530.04 309.21V313.85" stroke="#2962ff" stroke-width="0.9"/><rect x="529.04" y="309.37" width="2" height="4.44" fill="#2962ff"/><path d="M532.94 299.37V309.68" stroke="#2962ff" stroke-width="0.9"/><rect x="531.94" y="304.13" width="2" height="5.24" fill="#2962ff"/><path d="M535.84 304.10V314.50" stroke="#f23645" stroke-width="0.9"/><rect x="534.84" y="304.13" width="2" height="10.32" fill="#f23645"/><path d="M538.73 307.30V314.53" stroke="#2962ff" stroke-width="0.9"/><rect x="537.73" y="307.30" width="2" height="7.14" fill="#2962ff"/><path d="M541.63 307.09V310.68" stroke="#f23645" stroke-width="0.9"/><rect x="540.63" y="307.30" width="2" height="3.17" fill="#f23645"/><path d="M544.53 304.45V310.66" stroke="#2962ff" stroke-width="0.9"/><rect x="543.53" y="305.71" width="2" height="4.76" fill="#2962ff"/><path d="M547.43 301.75V308.89" stroke="#f23645" stroke-width="0.9"/><rect x="546.43" y="305.71" width="2" height="2.06" fill="#f23645"/><path d="M550.33 296.98V317.62" stroke="#f23645" stroke-width="0.9"/><rect x="549.33" y="307.78" width="2" height="4.76" fill="#f23645"/><path d="M553.22 312.40V313.24" stroke="#f23645" stroke-width="0.9"/><rect x="552.22" y="312.54" width="2" height="0.70" fill="#f23645"/><path d="M556.12 311.67V323.84" stroke="#f23645" stroke-width="0.9"/><rect x="555.12" y="312.86" width="2" height="10.32" fill="#f23645"/><path d="M559.02 323.10V331.61" stroke="#f23645" stroke-width="0.9"/><rect x="558.02" y="323.17" width="2" height="7.94" fill="#f23645"/><path d="M561.92 323.63V331.14" stroke="#2962ff" stroke-width="0.9"/><rect x="560.92" y="325.56" width="2" height="5.56" fill="#2962ff"/><path d="M564.82 316.94V325.97" stroke="#2962ff" stroke-width="0.9"/><rect x="563.82" y="318.41" width="2" height="7.14" fill="#2962ff"/><path d="M567.71 305.97V319.95" stroke="#2962ff" stroke-width="0.9"/><rect x="566.71" y="306.51" width="2" height="11.90" fill="#2962ff"/><path d="M570.61 299.90V307.07" stroke="#2962ff" stroke-width="0.9"/><rect x="569.61" y="300.24" width="2" height="6.27" fill="#2962ff"/><path d="M573.51 292.05V302.36" stroke="#2962ff" stroke-width="0.9"/><rect x="572.51" y="293.10" width="2" height="7.14" fill="#2962ff"/><path d="M576.41 292.84V300.17" stroke="#f23645" stroke-width="0.9"/><rect x="575.41" y="293.10" width="2" height="5.56" fill="#f23645"/><path d="M579.31 297.55V304.30" stroke="#f23645" stroke-width="0.9"/><rect x="578.31" y="298.65" width="2" height="4.76" fill="#f23645"/><path d="M582.20 303.05V305.27" stroke="#f23645" stroke-width="0.9"/><rect x="581.20" y="303.41" width="2" height="1.59" fill="#f23645"/><path d="M585.10 304.29V305.04" stroke="#2962ff" stroke-width="0.9"/><rect x="584.10" y="304.30" width="2" height="0.70" fill="#2962ff"/><path d="M588.00 302.61V305.73" stroke="#2962ff" stroke-width="0.9"/><rect x="587.00" y="302.62" width="2" height="1.90" fill="#2962ff"/><path d="M590.90 300.89V302.68" stroke="#2962ff" stroke-width="0.9"/><rect x="589.90" y="301.03" width="2" height="1.59" fill="#2962ff"/><path d="M593.80 301.02V305.45" stroke="#f23645" stroke-width="0.9"/><rect x="592.80" y="301.03" width="2" height="2.86" fill="#f23645"/><path d="M596.69 302.22V306.47" stroke="#f23645" stroke-width="0.9"/><rect x="595.69" y="303.89" width="2" height="1.59" fill="#f23645"/><path d="M599.59 305.30V307.51" stroke="#f23645" stroke-width="0.9"/><rect x="598.59" y="305.48" width="2" height="1.90" fill="#f23645"/><path d="M602.49 297.35V307.85" stroke="#2962ff" stroke-width="0.9"/><rect x="601.49" y="297.54" width="2" height="9.84" fill="#2962ff"/><path d="M605.39 284.31V297.98" stroke="#2962ff" stroke-width="0.9"/><rect x="604.39" y="284.37" width="2" height="13.17" fill="#2962ff"/><path d="M608.29 283.51V286.40" stroke="#2962ff" stroke-width="0.9"/><rect x="607.29" y="283.67" width="2" height="0.70" fill="#2962ff"/><path d="M611.18 281.81V286.13" stroke="#f23645" stroke-width="0.9"/><rect x="610.18" y="283.89" width="2" height="1.59" fill="#f23645"/><path d="M614.08 281.54V287.53" stroke="#2962ff" stroke-width="0.9"/><rect x="613.08" y="281.67" width="2" height="3.81" fill="#2962ff"/><path d="M616.98 279.87V281.95" stroke="#2962ff" stroke-width="0.9"/><rect x="615.98" y="280.08" width="2" height="1.59" fill="#2962ff"/><path d="M619.88 280.08V286.75" stroke="#f23645" stroke-width="0.9"/><rect x="618.88" y="280.08" width="2" height="6.35" fill="#f23645"/><path d="M622.78 285.95V297.86" stroke="#f23645" stroke-width="0.9"/><rect x="621.78" y="286.43" width="2" height="8.25" fill="#f23645"/><path d="M625.67 294.59V300.80" stroke="#f23645" stroke-width="0.9"/><rect x="624.67" y="294.68" width="2" height="5.56" fill="#f23645"/><path d="M628.57 297.06V300.39" stroke="#2962ff" stroke-width="0.9"/><rect x="627.57" y="297.06" width="2" height="3.17" fill="#2962ff"/><path d="M631.47 297.05V299.48" stroke="#f23645" stroke-width="0.9"/><rect x="630.47" y="297.06" width="2" height="2.06" fill="#f23645"/><path d="M634.37 299.12V302.62" stroke="#f23645" stroke-width="0.9"/><rect x="633.37" y="299.13" width="2" height="3.49" fill="#f23645"/><path d="M637.27 301.72V302.74" stroke="#2962ff" stroke-width="0.9"/><rect x="636.27" y="301.92" width="2" height="0.70" fill="#2962ff"/><path d="M640.16 299.01V302.60" stroke="#2962ff" stroke-width="0.9"/><rect x="639.16" y="299.76" width="2" height="2.22" fill="#2962ff"/><path d="M643.06 290.24V301.35" stroke="#2962ff" stroke-width="0.9"/><rect x="642.06" y="293.89" width="2" height="5.87" fill="#2962ff"/><path d="M645.96 292.76V296.29" stroke="#f23645" stroke-width="0.9"/><rect x="644.96" y="293.89" width="2" height="0.70" fill="#f23645"/><path d="M648.86 292.44V294.60" stroke="#2962ff" stroke-width="0.9"/><rect x="647.86" y="292.78" width="2" height="1.59" fill="#2962ff"/><path d="M651.76 290.64V293.94" stroke="#f23645" stroke-width="0.9"/><rect x="650.76" y="292.78" width="2" height="1.11" fill="#f23645"/><path d="M654.65 291.94V294.80" stroke="#2962ff" stroke-width="0.9"/><rect x="653.65" y="293.10" width="2" height="0.79" fill="#2962ff"/><path d="M657.55 293.09V295.58" stroke="#f23645" stroke-width="0.9"/><rect x="656.55" y="293.10" width="2" height="0.95" fill="#f23645"/><path d="M660.45 291.83V296.59" stroke="#2962ff" stroke-width="0.9"/><rect x="659.45" y="292.78" width="2" height="1.27" fill="#2962ff"/><path d="M663.35 203.62V214.94" stroke="#f23645" stroke-width="0.9"/><rect x="662.35" y="204.80" width="2" height="8.69" fill="#f23645"/><path d="M666.25 207.94V217.46" stroke="#2962ff" stroke-width="0.9"/><rect x="665.25" y="209.05" width="2" height="4.44" fill="#2962ff"/><path d="M669.14 193.09V210.58" stroke="#2962ff" stroke-width="0.9"/><rect x="668.14" y="193.65" width="2" height="15.40" fill="#2962ff"/><path d="M672.04 184.13V196.03" stroke="#2962ff" stroke-width="0.9"/><rect x="671.04" y="189.68" width="2" height="3.97" fill="#2962ff"/><path d="M674.94 186.55V191.44" stroke="#2962ff" stroke-width="0.9"/><rect x="673.94" y="187.30" width="2" height="2.38" fill="#2962ff"/><path d="M677.84 183.10V188.36" stroke="#2962ff" stroke-width="0.9"/><rect x="676.84" y="184.13" width="2" height="3.17" fill="#2962ff"/><path d="M680.74 173.69V184.13" stroke="#2962ff" stroke-width="0.9"/><rect x="679.74" y="173.81" width="2" height="10.32" fill="#2962ff"/><path d="M683.63 163.45V174.10" stroke="#2962ff" stroke-width="0.9"/><rect x="682.63" y="163.49" width="2" height="10.32" fill="#2962ff"/><path d="M686.53 158.73V166.67" stroke="#f23645" stroke-width="0.9"/><rect x="685.53" y="163.49" width="2" height="2.38" fill="#f23645"/><path d="M689.43 165.19V173.09" stroke="#f23645" stroke-width="0.9"/><rect x="688.43" y="165.87" width="2" height="6.35" fill="#f23645"/><path d="M692.33 171.36V176.42" stroke="#f23645" stroke-width="0.9"/><rect x="691.33" y="172.22" width="2" height="3.17" fill="#f23645"/><path d="M695.23 162.17V175.40" stroke="#2962ff" stroke-width="0.9"/><rect x="694.23" y="162.70" width="2" height="12.70" fill="#2962ff"/><path d="M698.12 159.39V163.93" stroke="#2962ff" stroke-width="0.9"/><rect x="697.12" y="160.79" width="2" height="1.90" fill="#2962ff"/><path d="M701.02 160.24V162.53" stroke="#f23645" stroke-width="0.9"/><rect x="700.02" y="160.79" width="2" height="1.11" fill="#f23645"/><path d="M703.92 160.95V162.71" stroke="#f23645" stroke-width="0.9"/><rect x="702.92" y="161.90" width="2" height="0.79" fill="#f23645"/><path d="M706.82 161.50V185.85" stroke="#f23645" stroke-width="0.9"/><rect x="705.82" y="162.70" width="2" height="23.02" fill="#f23645"/><path d="M709.72 173.81V187.30" stroke="#2962ff" stroke-width="0.9"/><rect x="708.72" y="175.40" width="2" height="10.32" fill="#2962ff"/><path d="M712.61 173.49V181.75" stroke="#2962ff" stroke-width="0.9"/><rect x="711.61" y="174.13" width="2" height="1.27" fill="#2962ff"/><path d="M715.51 172.54V180.16" stroke="#2962ff" stroke-width="0.9"/><rect x="714.51" y="173.43" width="2" height="0.70" fill="#2962ff"/><path d="M718.41 170.32V176.98" stroke="#2962ff" stroke-width="0.9"/><rect x="717.41" y="171.11" width="2" height="2.38" fill="#2962ff"/><path d="M721.31 167.78V173.81" stroke="#2962ff" stroke-width="0.9"/><rect x="720.31" y="168.73" width="2" height="2.38" fill="#2962ff"/><path d="M724.21 164.60V170.63" stroke="#2962ff" stroke-width="0.9"/><rect x="723.21" y="165.56" width="2" height="3.17" fill="#2962ff"/><path d="M727.10 163.02V167.78" stroke="#2962ff" stroke-width="0.9"/><rect x="726.10" y="163.97" width="2" height="1.59" fill="#2962ff"/><path d="M730.00 160.79V165.56" stroke="#2962ff" stroke-width="0.9"/><rect x="729.00" y="161.90" width="2" height="2.06" fill="#2962ff"/><path d="M732.90 160.69V166.08" stroke="#f23645" stroke-width="0.9"/><rect x="731.90" y="161.90" width="2" height="3.97" fill="#f23645"/><path d="M735.80 163.02V167.14" stroke="#2962ff" stroke-width="0.9"/><rect x="734.80" y="163.97" width="2" height="1.90" fill="#2962ff"/><path d="M738.70 160.79V165.56" stroke="#2962ff" stroke-width="0.9"/><rect x="737.70" y="161.90" width="2" height="2.06" fill="#2962ff"/><path d="M741.59 153.41V162.14" stroke="#2962ff" stroke-width="0.9"/><rect x="740.59" y="154.52" width="2" height="7.38" fill="#2962ff"/><path d="M744.49 151.83V158.65" stroke="#2962ff" stroke-width="0.9"/><rect x="743.49" y="152.62" width="2" height="1.90" fill="#2962ff"/><path d="M747.39 152.03V158.65" stroke="#f23645" stroke-width="0.9"/><rect x="746.39" y="152.62" width="2" height="5.56" fill="#f23645"/><path d="M750.29 157.70V159.79" stroke="#f23645" stroke-width="0.9"/><rect x="749.29" y="158.17" width="2" height="1.59" fill="#f23645"/><path d="M753.19 158.00V161.44" stroke="#f23645" stroke-width="0.9"/><rect x="752.19" y="159.76" width="2" height="1.59" fill="#f23645"/><path d="M756.08 153.41V161.35" stroke="#2962ff" stroke-width="0.9"/><rect x="755.08" y="154.52" width="2" height="6.83" fill="#2962ff"/><path d="M758.98 147.54V154.52" stroke="#2962ff" stroke-width="0.9"/><rect x="757.98" y="148.17" width="2" height="6.35" fill="#2962ff"/><path d="M761.88 144.37V151.35" stroke="#2962ff" stroke-width="0.9"/><rect x="760.88" y="145.00" width="2" height="3.17" fill="#2962ff"/><path d="M764.78 141.38V145.16" stroke="#2962ff" stroke-width="0.9"/><rect x="763.78" y="141.83" width="2" height="3.17" fill="#2962ff"/><path d="M767.68 141.73V146.33" stroke="#f23645" stroke-width="0.9"/><rect x="766.68" y="141.83" width="2" height="2.54" fill="#f23645"/><path d="M770.57 139.35V145.11" stroke="#2962ff" stroke-width="0.9"/><rect x="769.57" y="139.44" width="2" height="4.92" fill="#2962ff"/><path d="M773.47 137.02V140.05" stroke="#2962ff" stroke-width="0.9"/><rect x="772.47" y="137.06" width="2" height="2.38" fill="#2962ff"/><path d="M776.37 131.19V141.19" stroke="#f23645" stroke-width="0.9"/><rect x="775.37" y="137.06" width="2" height="3.17" fill="#f23645"/><path d="M779.27 134.79V140.81" stroke="#2962ff" stroke-width="0.9"/><rect x="778.27" y="136.27" width="2" height="3.97" fill="#2962ff"/><path d="M782.17 123.11V137.36" stroke="#2962ff" stroke-width="0.9"/><rect x="781.17" y="124.84" width="2" height="11.43" fill="#2962ff"/><path d="M785.06 122.78V133.57" stroke="#2962ff" stroke-width="0.9"/><rect x="784.06" y="123.73" width="2" height="1.11" fill="#2962ff"/><path d="M787.96 114.52V128.02" stroke="#2962ff" stroke-width="0.9"/><rect x="786.96" y="115.32" width="2" height="8.41" fill="#2962ff"/><path d="M790.86 108.89V120.95" stroke="#2962ff" stroke-width="0.9"/><rect x="789.86" y="109.52" width="2" height="5.79" fill="#2962ff"/><path d="M793.76 93.84V109.72" stroke="#2962ff" stroke-width="0.9"/><rect x="792.76" y="94.29" width="2" height="15.24" fill="#2962ff"/><path d="M796.66 89.42V94.55" stroke="#2962ff" stroke-width="0.9"/><rect x="795.66" y="89.46" width="2" height="4.83" fill="#2962ff"/><path d="M799.55 89.24V92.66" stroke="#f23645" stroke-width="0.9"/><rect x="798.55" y="89.46" width="2" height="1.65" fill="#f23645"/><path d="M802.45 91.11V95.27" stroke="#f23645" stroke-width="0.9"/><rect x="801.45" y="91.11" width="2" height="2.92" fill="#f23645"/><path d="M805.35 92.48V97.87" stroke="#f23645" stroke-width="0.9"/><rect x="804.35" y="94.03" width="2" height="3.81" fill="#f23645"/><path d="M808.25 82.86V97.84" stroke="#2962ff" stroke-width="0.9"/><rect x="807.25" y="83.49" width="2" height="14.35" fill="#2962ff"/><path d="M811.15 70.16V85.40" stroke="#2962ff" stroke-width="0.9"/><rect x="810.15" y="75.49" width="2" height="8.00" fill="#2962ff"/></g>
<polyline points="9.0,291.4 11.0,291.3 13.0,291.2 15.0,291.1 17.0,291.1 19.0,291.0 21.0,290.9 23.0,290.8 25.0,290.7 27.0,290.6 29.0,290.5 31.0,290.5 33.0,290.4 35.0,290.3 37.0,290.3 39.0,290.2 41.0,290.1 43.0,290.1 45.0,290.0 47.0,290.0 49.0,290.0 51.0,289.9 53.0,289.9 55.0,289.8 57.0,289.8 59.0,289.7 61.0,289.7 63.0,289.7 65.0,289.6 67.0,289.6 69.0,289.5 71.0,289.5 73.0,289.4 75.0,289.4 77.0,289.3 79.0,289.3 81.0,289.2 83.0,289.2 85.0,289.2 87.0,289.1 89.0,289.1 91.0,289.0 93.0,289.0 95.0,288.9 97.0,288.9 99.0,288.8 101.0,288.8 103.0,288.8 105.0,288.7 107.0,288.7 109.0,288.7 111.0,288.6 113.0,288.6 115.0,288.5 117.0,288.5 119.0,288.4 121.0,288.3 123.0,288.2 125.0,288.1 127.0,287.9 129.0,287.8 131.0,287.6 133.0,287.4 135.0,287.2 137.0,287.0 139.0,286.8 141.0,286.5 143.0,286.2 145.0,285.9 147.0,285.6 149.0,285.3 151.0,285.0 153.0,284.7 155.0,284.3 157.0,284.0 159.0,283.7 161.0,283.3 163.0,283.0 165.0,282.7 167.0,282.3 169.0,282.0 171.0,281.7 173.0,281.4 175.0,281.0 177.0,280.7 179.0,280.4 181.0,280.1 183.0,279.7 185.0,279.4 187.0,279.1 189.0,278.8 191.0,278.4 193.0,278.1 195.0,277.8 197.0,277.5 199.0,277.2 201.0,276.8 203.0,276.5 205.0,276.2 207.0,275.9 209.0,275.6 211.0,275.2 213.0,274.9 215.0,274.6 217.0,274.3 219.0,273.9 221.0,273.6 223.0,273.2 225.0,272.8 227.0,272.3 229.0,271.8 231.0,271.3 233.0,270.8 235.0,270.3 237.0,269.7 239.0,269.1 241.0,268.5 243.0,267.9 245.0,267.3 247.0,266.7 249.0,266.1 251.0,265.5 253.0,265.0 255.0,264.4 257.0,263.9 259.0,263.3 261.0,262.8 263.0,262.3 265.0,261.8 267.0,261.3 269.0,260.9 271.0,260.4 273.0,260.0 275.0,259.5 277.0,259.0 279.0,258.6 281.0,258.1 283.0,257.6 285.0,257.1 287.0,256.7 289.0,256.2 291.0,255.7 293.0,255.2 295.0,254.8 297.0,254.3 299.0,253.9 301.0,253.5 303.0,253.1 305.0,252.7 307.0,252.4 309.0,252.0 311.0,251.7 313.0,251.4 315.0,251.0 317.0,250.7 319.0,250.4 321.0,250.1 323.0,249.8 325.0,249.5 327.0,249.3 329.0,249.1 331.0,248.9 333.0,248.7 335.0,248.6 337.0,248.4 339.0,248.3 341.0,248.2 343.0,248.1 345.0,248.0 347.0,247.9 349.0,247.8 351.0,247.7 353.0,247.6 355.0,247.6 357.0,247.5 359.0,247.4 361.0,247.4 363.0,247.3 365.0,247.3 367.0,247.2 369.0,247.2 371.0,247.2 373.0,247.1 375.0,247.1 377.0,247.1 379.0,247.1 381.0,247.0 383.0,247.0 385.0,246.9 387.0,246.9 389.0,246.9 391.0,246.8 393.0,246.7 395.0,246.7 397.0,246.7 399.0,246.6 401.0,246.7 403.0,246.7 405.0,246.7 407.0,246.8 409.0,246.9 411.0,247.0 413.0,247.1 415.0,247.3 417.0,247.4 419.0,247.6 421.0,247.7 423.0,247.9 425.0,248.1 427.0,248.3 429.0,248.5 431.0,248.6 433.0,248.8 435.0,249.0 437.0,249.2 439.0,249.4 441.0,249.6 443.0,249.8 445.0,250.0 447.0,250.2 449.0,250.4 451.0,250.6 453.0,250.8 455.0,250.9 457.0,251.1 459.0,251.3 461.0,251.5 463.0,251.7 465.0,251.9 467.0,252.1 469.0,252.3 471.0,252.5 473.0,252.8 475.0,253.0 477.0,253.3 479.0,253.6 481.0,253.9 483.0,254.2 485.0,254.5 487.0,254.8 489.0,255.2 491.0,255.5 493.0,255.9 495.0,256.2 497.0,256.6 499.0,256.9 501.0,257.3 503.0,257.7 505.0,258.0 507.0,258.4 509.0,258.7 511.0,259.1 513.0,259.5 515.0,259.8 517.0,260.2 519.0,260.6 521.0,260.9 523.0,261.3 525.0,261.6 527.0,262.0 529.0,262.4 531.0,262.7 533.0,263.1 535.0,263.5 537.0,263.8 539.0,264.2 541.0,264.6 543.0,264.9 545.0,265.3 547.0,265.7 549.0,266.0 551.0,266.3 553.0,266.7 555.0,267.0 557.0,267.3 559.0,267.7 561.0,268.0 563.0,268.3 565.0,268.5 567.0,268.8 569.0,269.0 571.0,269.3 573.0,269.5 575.0,269.8 577.0,270.0 579.0,270.2 581.0,270.4 583.0,270.6 585.0,270.8 587.0,271.0 589.0,271.2 591.0,271.4 593.0,271.6 595.0,271.8 597.0,272.0 599.0,272.2 601.0,272.4 603.0,272.6 605.0,272.8 607.0,273.0 609.0,273.2 611.0,273.3 613.0,273.5 615.0,273.7 617.0,273.8 619.0,274.0 621.0,274.1 623.0,274.3 625.0,274.4 627.0,274.5 629.0,274.6 631.0,274.7 633.0,274.8 635.0,275.0 637.0,275.1 639.0,275.2 641.0,275.3 643.0,275.4 645.0,275.5 647.0,275.7 649.0,275.8 651.0,275.9 653.0,275.9 655.0,275.9 657.0,275.9 659.0,275.8 661.0,275.6 663.0,275.3 665.0,275.0 667.0,274.6 669.0,274.1 671.0,273.5 673.0,273.0 675.0,272.3 677.0,271.7 679.0,271.0 681.0,270.3 683.0,269.7 685.0,269.0 687.0,268.3 689.0,267.7 691.0,267.0 693.0,266.3 695.0,265.7 697.0,265.0 699.0,264.4 701.0,263.7 703.0,263.1 705.0,262.5 707.0,261.8 709.0,261.2 711.0,260.6 713.0,260.0 715.0,259.4 717.0,258.7 719.0,258.1 721.0,257.5 723.0,256.9 725.0,256.3 727.0,255.7 729.0,255.1 731.0,254.4 733.0,253.8 735.0,253.2 737.0,252.6 739.0,251.9 741.0,251.3 743.0,250.6 745.0,250.0 747.0,249.3 749.0,248.6 751.0,248.0 753.0,247.3 755.0,246.7 757.0,246.0 759.0,245.3 761.0,244.6 763.0,243.9 765.0,243.1 767.0,242.4 769.0,241.6 771.0,240.8 773.0,240.0 775.0,239.1 777.0,238.3 779.0,237.4 781.0,236.6 783.0,235.7 785.0,234.9 787.0,234.0 789.0,233.2 791.0,232.3 793.0,231.5 795.0,230.7 797.0,229.8 799.0,229.0 801.0,228.2 803.0,227.4 805.0,226.5 807.0,225.7 809.0,224.9 810.3,224.3" fill="none" stroke="#a6a6a6" stroke-width="1" stroke-linejoin="round"/>
<polyline points="9.0,267.6 10.5,267.6 12.0,267.6 13.5,267.6 15.0,267.6 16.5,267.7 18.0,267.7 19.5,267.8 21.0,267.9 22.5,268.1 24.0,268.3 25.5,268.5 27.0,268.8 28.5,269.1 30.0,269.5 31.5,269.9 33.0,270.3 34.5,270.7 36.0,271.2 37.5,271.7 39.0,272.3 40.5,272.9 42.0,273.5 43.5,274.1 45.0,274.8 46.5,275.4 48.0,276.0 49.5,276.6 51.0,277.1 52.5,277.5 54.0,277.9 55.5,278.2 57.0,278.5 58.5,278.8 60.0,279.1 61.5,279.3 63.0,279.5 64.5,279.7 66.0,279.9 67.5,280.1 69.0,280.2 70.5,280.3 72.0,280.4 73.5,280.5 75.0,280.6 76.5,280.7 78.0,280.7 79.5,280.7 81.0,280.8 82.5,280.8 84.0,280.9 85.5,280.9 87.0,281.0 88.5,281.1 90.0,281.2 91.5,281.4 93.0,281.5 94.5,281.6 96.0,281.7 97.5,281.8 99.0,281.9 100.5,282.0 102.0,282.1 103.5,282.2 105.0,282.2 106.5,282.3 108.0,282.4 109.5,282.4 111.0,282.5 112.5,282.5 114.0,282.5 115.5,282.5 117.0,282.5 118.5,282.4 120.0,282.3 121.5,282.2 123.0,282.0 124.5,281.8 126.0,281.6 127.5,281.3 129.0,281.0 130.5,280.7 132.0,280.3 133.5,279.9 135.0,279.4 136.5,278.9 138.0,278.4 139.5,277.8 141.0,277.2 142.5,276.5 144.0,275.8 145.5,275.0 147.0,274.2 148.5,273.4 150.0,272.5 151.5,271.6 153.0,270.6 154.5,269.5 156.0,268.4 157.5,267.3 159.0,266.0 160.5,264.8 162.0,263.5 163.5,262.2 165.0,260.9 166.5,259.5 168.0,258.2 169.5,256.8 171.0,255.5 172.5,254.1 174.0,252.8 175.5,251.5 177.0,250.2 178.5,249.0 180.0,247.8 181.5,246.7 183.0,245.6 184.5,244.5 186.0,243.6 187.5,242.7 189.0,241.8 190.5,241.0 192.0,240.3 193.5,239.5 195.0,238.9 196.5,238.3 198.0,237.7 199.5,237.2 201.0,236.7 202.5,236.1 204.0,235.7 205.5,235.2 207.0,234.8 208.5,234.5 210.0,234.1 211.5,233.8 213.0,233.5 214.5,233.2 216.0,232.9 217.5,232.5 219.0,232.1 220.5,231.5 222.0,230.8 223.5,230.1 225.0,229.1 226.5,228.1 228.0,227.0 229.5,225.9 231.0,224.8 232.5,223.6 234.0,222.4 235.5,221.3 237.0,220.1 238.5,219.0 240.0,217.8 241.5,216.7 243.0,215.6 244.5,214.5 246.0,213.3 247.5,212.2 249.0,211.1 250.5,209.9 252.0,208.8 253.5,207.7 255.0,206.6 256.5,205.4 258.0,204.3 259.5,203.2 261.0,202.1 262.5,201.1 264.0,200.0 265.5,198.9 267.0,197.9 268.5,196.9 270.0,195.9 271.5,194.9 273.0,194.0 274.5,193.0 276.0,192.1 277.5,191.3 279.0,190.5 280.5,189.8 282.0,189.2 283.5,188.8 285.0,188.5 286.5,188.3 288.0,188.3 289.5,188.4 291.0,188.6 292.5,188.8 294.0,189.1 295.5,189.5 297.0,189.8 298.5,190.2 300.0,190.6 301.5,190.9 303.0,191.3 304.5,191.6 306.0,192.0 307.5,192.3 309.0,192.6 310.5,192.9 312.0,193.2 313.5,193.4 315.0,193.7 316.5,194.0 318.0,194.3 319.5,194.7 321.0,195.1 322.5,195.5 324.0,196.0 325.5,196.6 327.0,197.3 328.5,198.1 330.0,198.9 331.5,199.8 333.0,200.8 334.5,201.8 336.0,202.9 337.5,204.0 339.0,205.1 340.5,206.3 342.0,207.6 343.5,208.8 345.0,210.1 346.5,211.4 348.0,212.6 349.5,213.8 351.0,215.0 352.5,216.1 354.0,217.3 355.5,218.4 357.0,219.5 358.5,220.6 360.0,221.7 361.5,222.8 363.0,223.8 364.5,224.9 366.0,226.0 367.5,227.0 369.0,228.1 370.5,229.1 372.0,230.1 373.5,231.2 375.0,232.2 376.5,233.1 378.0,234.0 379.5,234.8 381.0,235.6 382.5,236.3 384.0,236.8 385.5,237.3 387.0,237.7 388.5,238.1 390.0,238.4 391.5,238.6 393.0,238.8 394.5,239.1 396.0,239.3 397.5,239.5 399.0,239.7 400.5,239.9 402.0,240.1 403.5,240.3 405.0,240.5 406.5,240.8 408.0,241.2 409.5,241.6 411.0,242.2 412.5,242.8 414.0,243.5 415.5,244.3 417.0,245.1 418.5,245.9 420.0,246.7 421.5,247.6 423.0,248.5 424.5,249.3 426.0,250.2 427.5,251.1 429.0,251.9 430.5,252.8 432.0,253.6 433.5,254.5 435.0,255.3 436.5,256.2 438.0,257.1 439.5,257.9 441.0,258.8 442.5,259.6 444.0,260.5 445.5,261.4 447.0,262.2 448.5,263.0 450.0,263.8 451.5,264.6 453.0,265.4 454.5,266.1 456.0,266.9 457.5,267.5 459.0,268.2 460.5,268.7 462.0,269.3 463.5,269.8 465.0,270.2 466.5,270.6 468.0,271.1 469.5,271.5 471.0,272.0 472.5,272.4 474.0,272.9 475.5,273.4 477.0,274.1 478.5,274.8 480.0,275.6 481.5,276.4 483.0,277.4 484.5,278.4 486.0,279.5 487.5,280.5 489.0,281.5 490.5,282.6 492.0,283.6 493.5,284.6 495.0,285.6 496.5,286.6 498.0,287.5 499.5,288.5 501.0,289.4 502.5,290.3 504.0,291.2 505.5,292.0 507.0,292.9 508.5,293.9 510.0,294.8 511.5,295.8 513.0,296.8 514.5,297.8 516.0,298.8 517.5,299.8 519.0,300.8 520.5,301.8 522.0,302.8 523.5,303.8 525.0,304.7 526.5,305.7 528.0,306.5 529.5,307.4 531.0,308.2 532.5,308.9 534.0,309.5 535.5,310.0 537.0,310.4 538.5,310.7 540.0,310.9 541.5,311.1 543.0,311.2 544.5,311.4 546.0,311.5 547.5,311.6 549.0,311.8 550.5,311.9 552.0,312.0 553.5,312.1 555.0,312.2 556.5,312.3 558.0,312.3 559.5,312.4 561.0,312.4 562.5,312.4 564.0,312.4 565.5,312.4 567.0,312.3 568.5,312.2 570.0,312.1 571.5,311.9 573.0,311.8 574.5,311.6 576.0,311.4 577.5,311.2 579.0,311.1 580.5,310.9 582.0,310.7 583.5,310.6 585.0,310.5 586.5,310.4 588.0,310.3 589.5,310.2 591.0,310.1 592.5,309.9 594.0,309.8 595.5,309.6 597.0,309.4 598.5,309.1 600.0,308.8 601.5,308.5 603.0,308.1 604.5,307.8 606.0,307.4 607.5,307.0 609.0,306.6 610.5,306.1 612.0,305.6 613.5,304.9 615.0,304.1 616.5,303.2 618.0,302.4 619.5,301.6 621.0,300.8 622.5,300.2 624.0,299.7 625.5,299.3 627.0,299.1 628.5,298.8 630.0,298.5 631.5,298.3 633.0,298.0 634.5,297.7 636.0,297.4 637.5,297.1 639.0,296.8 640.5,296.5 642.0,296.2 643.5,295.9 645.0,295.7 646.5,295.4 648.0,295.2 649.5,294.9 651.0,294.6 652.5,294.4 654.0,294.1 655.5,293.8 657.0,293.3 658.5,292.6 660.0,291.6 661.5,290.3 663.0,288.7 664.5,286.9 666.0,284.8 667.5,282.5 669.0,280.3 670.5,278.1 672.0,275.8 673.5,273.3 675.0,270.7 676.5,268.0 678.0,265.1 679.5,262.1 681.0,258.9 682.5,255.7 684.0,252.5 685.5,249.3 687.0,246.2 688.5,243.1 690.0,240.0 691.5,237.0 693.0,234.0 694.5,231.1 696.0,228.2 697.5,225.3 699.0,222.5 700.5,219.7 702.0,217.0 703.5,214.2 705.0,211.5 706.5,208.7 708.0,205.8 709.5,202.9 711.0,200.0 712.5,197.0 714.0,194.0 715.5,191.1 717.0,188.2 718.5,185.5 720.0,183.0 721.5,180.7 723.0,178.7 724.5,177.0 726.0,175.6 727.5,174.5 729.0,173.5 730.5,172.6 732.0,171.9 733.5,171.2 735.0,170.6 736.5,170.0 738.0,169.4 739.5,168.9 741.0,168.5 742.5,168.1 744.0,167.7 745.5,167.4 747.0,167.1 748.5,166.8 750.0,166.6 751.5,166.3 753.0,166.1 754.5,165.8 756.0,165.5 757.5,165.2 759.0,164.8 760.5,164.4 762.0,163.9 763.5,163.3 765.0,162.6 766.5,161.9 768.0,161.0 769.5,160.1 771.0,159.1 772.5,158.1 774.0,157.1 775.5,156.1 777.0,155.1 778.5,154.0 780.0,153.0 781.5,151.9 783.0,150.8 784.5,149.6 786.0,148.4 787.5,147.2 789.0,145.9 790.5,144.6 792.0,143.2 793.5,141.7 795.0,140.3 796.5,138.7 798.0,137.2 799.5,135.6 801.0,133.9 802.5,132.2 804.0,130.4 805.5,128.6 807.0,126.8 808.5,125.0 810.0,123.2 811.3,121.5" fill="none" stroke="#cdb62a" stroke-width="1.2" stroke-linejoin="round"/>
</g>
<path d="M9 42.5H962.5" stroke="#585858" stroke-width="1"/>
<path d="M9 87.4H962.5" stroke="#404040" stroke-width="1"/>
<path d="M9 75.6H962.5" stroke="#2150d0" stroke-width="1" stroke-dasharray="1 1.5" opacity="0.62"/>
<path d="M152 182.8H962.5" stroke="#4caf50" stroke-width="2.2"/>
<path d="M9 225.8H962.5" stroke="#4caf50" stroke-width="2.2"/>
<path d="M9 225.8H962.5" stroke="#2a6e2e" stroke-width="0.9" stroke-dasharray="1 1.3"/>
<path d="M164.3 243.8H962.5" stroke="#4caf50" stroke-width="2.2"/>
<path d="M164.3 243.8H962.5" stroke="#2a6e2e" stroke-width="0.9" stroke-dasharray="1 1.3"/>
<path d="M36.7 291.7H942" stroke="#4caf50" stroke-width="2.2"/>
<path d="M9 349.2H962.5" stroke="#4caf50" stroke-width="2.2"/>
<path d="M9 138.8H962.5" stroke="#2962ff" stroke-width="2.2"/>
<path d="M9 215.1H962.5" stroke="#2962ff" stroke-width="2.2"/>
<path d="M9 356.4H962.5" stroke="#2962ff" stroke-width="2.2"/>
<path d="M9 333.7L962.5 301.2" stroke="#2962ff" stroke-width="2"/>
<path d="M9 122.3H962.5" stroke="#9c27b0" stroke-width="1.8"/>
<path d="M9 29.8L962.5 45.8" stroke="#9c27b0" stroke-width="1.8"/>
<polyline points="665.8,177.8 803.0,85.8" fill="none" stroke="#fff" stroke-width="1.9"/>
<polyline points="666.5,219.0 802.7,127.9" fill="none" stroke="#fff" stroke-width="1.9"/>
<polyline points="562.0,333.5 574.0,292.2 581.9,311.5 593.8,298.5 599.4,312.7 614.4,275.0 643.0,305.6 666.9,220.0 686.7,160.8 689.6,183.1 703.4,158.1 707.4,191.9 744.7,151.0 753.5,165.1 800.0,87.6 808.1,94.2 811.5,84.6" fill="none" stroke="#fff" stroke-width="2.5" stroke-linejoin="round" stroke-linecap="round"/>
<g transform="translate(863.2 354.4)"><circle r="9.3" fill="#000"/><circle r="8.7" fill="none" stroke="#cf2a3c" stroke-width="1.5"/><clipPath id="fl"><circle r="6.6"/></clipPath><g clip-path="url(#fl)"><rect x="-7" y="-7" width="14" height="14" fill="#fff"/><rect x="-7" y="-4.7" width="14" height="2" fill="#e53935"/><rect x="-7" y="-0.9" width="14" height="2" fill="#e53935"/><rect x="-7" y="3.6" width="14" height="2.2" fill="#e53935"/><rect x="-7" y="-7" width="8.6" height="8.6" fill="#2f62d8"/><path d="M-5.2 -4.2h6M-5.2 -2h6M-5.2 0h6" stroke="#dbe6ff" stroke-width="0.7" stroke-dasharray="0.9 1.1"/></g></g>
<rect x="965.5" y="27" width="46" height="21" rx="4" fill="#1c1c1c" stroke="#2e2e2e" stroke-width="1"/>
<rect x="962.5" y="67.6" width="48" height="27.4" rx="1.5" fill="#2962ff"/>
<rect x="962.5" y="115.4" width="48" height="14.6" rx="2" fill="#ffeb3b"/>
<rect x="962.5" y="217.4" width="48" height="14.6" rx="2" fill="#c4c4c4"/>
<rect x="962.5" y="338" width="25.5" height="15" rx="2" fill="#26a69a"/>
<text x="971" y="137.20000000000002" font-size="10.3" fill="#f4f4f4" text-anchor="start" font-weight="normal" textLength="35.6" lengthAdjust="spacingAndGlyphs" stroke="#f4f4f4" stroke-width="0.35" stroke-linejoin="round" >151.000</text>
<text x="971" y="182.10000000000002" font-size="10.3" fill="#f4f4f4" text-anchor="start" font-weight="normal" textLength="35.6" lengthAdjust="spacingAndGlyphs" stroke="#f4f4f4" stroke-width="0.35" stroke-linejoin="round" >150.000</text>
<text x="971" y="272.6" font-size="10.3" fill="#f4f4f4" text-anchor="start" font-weight="normal" textLength="35.6" lengthAdjust="spacingAndGlyphs" stroke="#f4f4f4" stroke-width="0.35" stroke-linejoin="round" >148.000</text>
<text x="971" y="318.1" font-size="10.3" fill="#f4f4f4" text-anchor="start" font-weight="normal" textLength="35.6" lengthAdjust="spacingAndGlyphs" stroke="#f4f4f4" stroke-width="0.35" stroke-linejoin="round" >147.000</text>
<text x="971" y="362.90000000000003" font-size="10.3" fill="#f4f4f4" text-anchor="start" font-weight="normal" textLength="35.6" lengthAdjust="spacingAndGlyphs" stroke="#f4f4f4" stroke-width="0.35" stroke-linejoin="round" >146.000</text>
<text x="971" y="79.0" font-size="10.3" fill="#fff" text-anchor="start" font-weight="normal" textLength="35.2" lengthAdjust="spacingAndGlyphs" stroke="#fff" stroke-width="0.35" stroke-linejoin="round" >152.272</text>
<text x="971" y="91.2" font-size="10.3" fill="#dbe4ff" text-anchor="start" font-weight="normal" textLength="24.3" lengthAdjust="spacingAndGlyphs" stroke="#dbe4ff" stroke-width="0.2" stroke-linejoin="round" >27:44</text>
<text x="971" y="125.7" font-size="10.3" fill="#111" text-anchor="start" font-weight="normal" textLength="35.2" lengthAdjust="spacingAndGlyphs" stroke="#111" stroke-width="0.35" stroke-linejoin="round" >151.239</text>
<text x="971" y="227.8" font-size="10.3" fill="#111" text-anchor="start" font-weight="normal" textLength="35.2" lengthAdjust="spacingAndGlyphs" stroke="#111" stroke-width="0.35" stroke-linejoin="round" >148.982</text>
<text x="969.5" y="349.0" font-size="10.3" fill="#fff" text-anchor="start" font-weight="normal" textLength="12.5" lengthAdjust="spacingAndGlyphs" stroke="#fff" stroke-width="0.3" stroke-linejoin="round" >9 K</text>
<text x="974.2" y="41.0" font-size="10.3" fill="#eee" text-anchor="start" font-weight="normal" textLength="15.2" lengthAdjust="spacingAndGlyphs" stroke="#eee" stroke-width="0.3" stroke-linejoin="round" >JPY</text>
<text x="20" y="381.6" font-size="10.1" fill="#f4f4f4" text-anchor="middle" font-weight="normal" stroke="#f4f4f4" stroke-width="0.45" stroke-linejoin="round" >23</text>
<text x="89.5" y="381.6" font-size="10.1" fill="#f4f4f4" text-anchor="middle" font-weight="normal" stroke="#f4f4f4" stroke-width="0.45" stroke-linejoin="round" >24</text>
<text x="159" y="381.6" font-size="10.1" fill="#f4f4f4" text-anchor="middle" font-weight="normal" stroke="#f4f4f4" stroke-width="0.45" stroke-linejoin="round" >25</text>
<text x="228.5" y="381.6" font-size="10.1" fill="#f4f4f4" text-anchor="middle" font-weight="normal" stroke="#f4f4f4" stroke-width="0.45" stroke-linejoin="round" >26</text>
<text x="298" y="381.6" font-size="10.1" fill="#f4f4f4" text-anchor="middle" font-weight="normal" stroke="#f4f4f4" stroke-width="0.45" stroke-linejoin="round" >27</text>
<text x="368" y="381.6" font-size="10.1" fill="#f4f4f4" text-anchor="middle" font-weight="normal" stroke="#f4f4f4" stroke-width="0.45" stroke-linejoin="round" >30</text>
<text x="506.7" y="381.6" font-size="10.1" fill="#f4f4f4" text-anchor="middle" font-weight="normal" stroke="#f4f4f4" stroke-width="0.45" stroke-linejoin="round" >2</text>
<text x="577" y="381.6" font-size="10.1" fill="#f4f4f4" text-anchor="middle" font-weight="normal" stroke="#f4f4f4" stroke-width="0.45" stroke-linejoin="round" >3</text>
<text x="646" y="381.6" font-size="10.1" fill="#f4f4f4" text-anchor="middle" font-weight="normal" stroke="#f4f4f4" stroke-width="0.45" stroke-linejoin="round" >4</text>
<text x="716" y="381.6" font-size="10.1" fill="#f4f4f4" text-anchor="middle" font-weight="normal" stroke="#f4f4f4" stroke-width="0.45" stroke-linejoin="round" >7</text>
<text x="785.5" y="381.6" font-size="10.1" fill="#f4f4f4" text-anchor="middle" font-weight="normal" stroke="#f4f4f4" stroke-width="0.45" stroke-linejoin="round" >8</text>
<text x="855" y="381.6" font-size="10.1" fill="#f4f4f4" text-anchor="middle" font-weight="normal" stroke="#f4f4f4" stroke-width="0.45" stroke-linejoin="round" >9</text>
<text x="924" y="381.6" font-size="10.1" fill="#f4f4f4" text-anchor="middle" font-weight="normal" stroke="#f4f4f4" stroke-width="0.45" stroke-linejoin="round" >10</text>
<text x="427" y="381.7" font-size="10.3" fill="#f4f4f4" text-anchor="start" font-weight="bold" textLength="20.6" lengthAdjust="spacingAndGlyphs" >10月</text>
<text x="15.5" y="39.4" font-size="10.2" fill="#f5f5f5" text-anchor="start" font-weight="normal" textLength="51.5" lengthAdjust="spacingAndGlyphs" stroke="#f5f5f5" stroke-width="0.35" stroke-linejoin="round" >米ドル／円</text>
<text x="71.7" y="39.4" font-size="10.2" fill="#f5f5f5" text-anchor="middle" font-weight="normal" stroke="#f5f5f5" stroke-width="0.6" stroke-linejoin="round" >·</text>
<text x="77.5" y="39.4" font-size="10.2" fill="#f5f5f5" text-anchor="start" font-weight="normal" textLength="24.5" lengthAdjust="spacingAndGlyphs" stroke="#f5f5f5" stroke-width="0.35" stroke-linejoin="round" >1時間</text>
<text x="106.7" y="39.4" font-size="10.2" fill="#f5f5f5" text-anchor="middle" font-weight="normal" stroke="#f5f5f5" stroke-width="0.6" stroke-linejoin="round" >·</text>
<text x="113" y="39.4" font-size="10.2" fill="#f5f5f5" text-anchor="start" font-weight="normal" textLength="31.5" lengthAdjust="spacingAndGlyphs" stroke="#f5f5f5" stroke-width="0.35" stroke-linejoin="round" >OANDA</text>
<text x="150.7" y="39.4" font-size="10.2" fill="#f5f5f5" text-anchor="start" font-weight="normal" textLength="20.0" lengthAdjust="spacingAndGlyphs" stroke="#f5f5f5" stroke-width="0.35" stroke-linejoin="round" >始値</text>
<text x="170.7" y="39.4" font-size="10.2" fill="#2962ff" text-anchor="start" font-weight="normal" textLength="35.3" lengthAdjust="spacingAndGlyphs" stroke="#2962ff" stroke-width="0.4" stroke-linejoin="round" >152.061</text>
<text x="214" y="39.4" font-size="10.2" fill="#f5f5f5" text-anchor="start" font-weight="normal" textLength="20" lengthAdjust="spacingAndGlyphs" stroke="#f5f5f5" stroke-width="0.35" stroke-linejoin="round" >高値</text>
<text x="234" y="39.4" font-size="10.2" fill="#2962ff" text-anchor="start" font-weight="normal" textLength="35.9" lengthAdjust="spacingAndGlyphs" stroke="#2962ff" stroke-width="0.4" stroke-linejoin="round" >152.378</text>
<text x="277.3" y="39.4" font-size="10.2" fill="#f5f5f5" text-anchor="start" font-weight="normal" textLength="20.0" lengthAdjust="spacingAndGlyphs" stroke="#f5f5f5" stroke-width="0.35" stroke-linejoin="round" >安値</text>
<text x="297.3" y="39.4" font-size="10.2" fill="#2962ff" text-anchor="start" font-weight="normal" textLength="35.0" lengthAdjust="spacingAndGlyphs" stroke="#2962ff" stroke-width="0.4" stroke-linejoin="round" >152.058</text>
<text x="339.5" y="39.4" font-size="10.2" fill="#f5f5f5" text-anchor="start" font-weight="normal" textLength="20.0" lengthAdjust="spacingAndGlyphs" stroke="#f5f5f5" stroke-width="0.35" stroke-linejoin="round" >終値</text>
<text x="359.5" y="39.4" font-size="10.2" fill="#2962ff" text-anchor="start" font-weight="normal" textLength="35.3" lengthAdjust="spacingAndGlyphs" stroke="#2962ff" stroke-width="0.4" stroke-linejoin="round" >152.272</text>
<text x="403.2" y="39.4" font-size="10.2" fill="#2962ff" text-anchor="start" font-weight="normal" textLength="71.5" lengthAdjust="spacingAndGlyphs" stroke="#2962ff" stroke-width="0.4" stroke-linejoin="round" >+0.213 (+0.14%)</text>
<text x="9" y="16.8" font-size="10.1" fill="#222" text-anchor="start" font-weight="normal" textLength="295.5" lengthAdjust="spacingAndGlyphs" stroke="#222" stroke-width="0.35" stroke-linejoin="round" >10月 08, 2025 09:32 UTC+9、poko0813がTradingView.comで作成</text>
<g fill="#141414"><path d="M10.3 408.6H20.8V421.2H15.5V413.6H10.3Z"/><circle cx="24.9" cy="411.1" r="2.3"/><path d="M29.2 408.6H35.7L30.7 421.2H24.4Z"/></g>
<text x="42.3" y="421.2" font-size="17" fill="#141414" text-anchor="start" font-weight="normal" textLength="102" lengthAdjust="spacingAndGlyphs" stroke="#141414" stroke-width="0.75" stroke-linejoin="round" >TradingView</text>
</svg></body></html>
